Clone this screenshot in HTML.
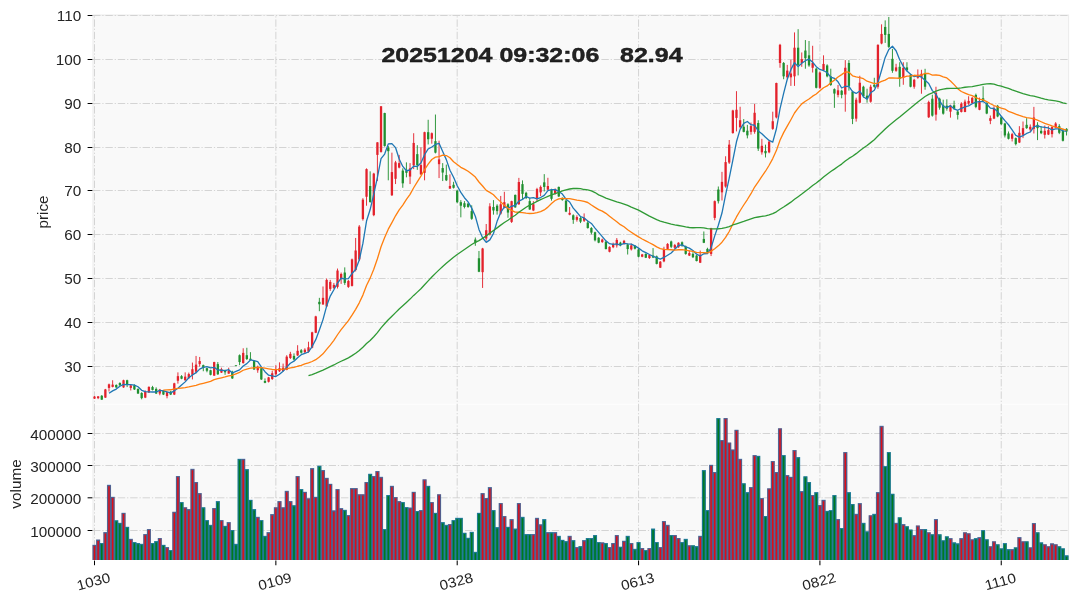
<!DOCTYPE html>
<html><head><meta charset="utf-8"><title>chart</title>
<style>html,body{margin:0;padding:0;background:#fff}svg{display:block}text{font-family:"Liberation Sans",sans-serif;fill:#222}</style></head><body>
<svg width="1077" height="602" viewBox="0 0 1077 602">
<rect width="1077" height="602" fill="#ffffff"/>
<rect x="93.0" y="15.0" width="975.6" height="545.0" fill="#f9f9f9"/>
<line x1="93.0" x2="1068.6" y1="404.4" y2="404.4" stroke="#fdfdfd" stroke-width="1.2"/>
<rect x="93.0" y="15.0" width="975.6" height="545.0" fill="none" stroke="#ececec" stroke-width="1"/>
<g stroke="#cdcdcd" stroke-width="0.85" stroke-dasharray="7.4 1.9 1.2 1.9" fill="none">
<line x1="93.0" x2="1068.6" y1="366.50" y2="366.50"/>
<line x1="93.0" x2="1068.6" y1="322.50" y2="322.50"/>
<line x1="93.0" x2="1068.6" y1="278.50" y2="278.50"/>
<line x1="93.0" x2="1068.6" y1="234.50" y2="234.50"/>
<line x1="93.0" x2="1068.6" y1="190.50" y2="190.50"/>
<line x1="93.0" x2="1068.6" y1="147.50" y2="147.50"/>
<line x1="93.0" x2="1068.6" y1="103.50" y2="103.50"/>
<line x1="93.0" x2="1068.6" y1="59.50" y2="59.50"/>
<line x1="93.0" x2="1068.6" y1="15.50" y2="15.50"/>
<line x1="93.0" x2="1068.6" y1="530.50" y2="530.50"/>
<line x1="93.0" x2="1068.6" y1="497.80" y2="497.80"/>
<line x1="93.0" x2="1068.6" y1="465.50" y2="465.50"/>
<line x1="93.0" x2="1068.6" y1="433.50" y2="433.50"/>
<line x1="94.50" x2="94.50" y1="560.0" y2="15.0"/>
<line x1="275.85" x2="275.85" y1="560.0" y2="15.0"/>
<line x1="457.20" x2="457.20" y1="560.0" y2="15.0"/>
<line x1="638.55" x2="638.55" y1="560.0" y2="15.0"/>
<line x1="819.90" x2="819.90" y1="560.0" y2="15.0"/>
<line x1="1001.25" x2="1001.25" y1="560.0" y2="15.0"/>
</g>
<filter id="vb" x="-1%" y="-5%" width="102%" height="110%"><feGaussianBlur stdDeviation="0.75 0.35"/></filter>
<g filter="url(#vb)">
<g>
<rect x="92.69" y="545.02" width="3.69" height="17.48" fill="#df0f18"/>
<rect x="96.31" y="539.81" width="3.69" height="22.69" fill="#df0f18"/>
<rect x="99.94" y="543.16" width="3.69" height="19.34" fill="#007a1e"/>
<rect x="103.57" y="532.37" width="3.69" height="30.13" fill="#df0f18"/>
<rect x="107.19" y="485.12" width="3.69" height="77.38" fill="#df0f18"/>
<rect x="110.82" y="497.02" width="3.69" height="65.48" fill="#df0f18"/>
<rect x="114.45" y="520.47" width="3.69" height="42.03" fill="#007a1e"/>
<rect x="118.08" y="523.07" width="3.69" height="39.43" fill="#007a1e"/>
<rect x="121.70" y="513.02" width="3.69" height="49.48" fill="#df0f18"/>
<rect x="125.33" y="526.98" width="3.69" height="35.52" fill="#007a1e"/>
<rect x="128.96" y="539.07" width="3.69" height="23.43" fill="#df0f18"/>
<rect x="132.58" y="542.23" width="3.69" height="20.27" fill="#007a1e"/>
<rect x="136.21" y="543.16" width="3.69" height="19.34" fill="#007a1e"/>
<rect x="139.84" y="544.09" width="3.69" height="18.41" fill="#007a1e"/>
<rect x="143.46" y="534.23" width="3.69" height="28.27" fill="#df0f18"/>
<rect x="147.09" y="529.21" width="3.69" height="33.29" fill="#df0f18"/>
<rect x="150.72" y="543.16" width="3.69" height="19.34" fill="#007a1e"/>
<rect x="154.35" y="541.30" width="3.69" height="21.20" fill="#007a1e"/>
<rect x="157.97" y="538.14" width="3.69" height="24.36" fill="#df0f18"/>
<rect x="161.60" y="545.02" width="3.69" height="17.48" fill="#007a1e"/>
<rect x="165.23" y="547.26" width="3.69" height="15.24" fill="#df0f18"/>
<rect x="168.85" y="550.23" width="3.69" height="12.27" fill="#007a1e"/>
<rect x="172.48" y="511.91" width="3.69" height="50.59" fill="#df0f18"/>
<rect x="176.11" y="476.19" width="3.69" height="86.31" fill="#df0f18"/>
<rect x="179.73" y="502.23" width="3.69" height="60.27" fill="#007a1e"/>
<rect x="183.36" y="507.44" width="3.69" height="55.06" fill="#df0f18"/>
<rect x="186.99" y="509.30" width="3.69" height="53.20" fill="#df0f18"/>
<rect x="190.62" y="469.12" width="3.69" height="93.38" fill="#df0f18"/>
<rect x="194.24" y="482.14" width="3.69" height="80.36" fill="#df0f18"/>
<rect x="197.87" y="493.30" width="3.69" height="69.20" fill="#df0f18"/>
<rect x="201.50" y="507.44" width="3.69" height="55.06" fill="#007a1e"/>
<rect x="205.12" y="520.28" width="3.69" height="42.22" fill="#007a1e"/>
<rect x="208.75" y="525.12" width="3.69" height="37.38" fill="#007a1e"/>
<rect x="212.38" y="508.19" width="3.69" height="54.31" fill="#df0f18"/>
<rect x="216.00" y="501.30" width="3.69" height="61.20" fill="#007a1e"/>
<rect x="219.63" y="520.28" width="3.69" height="42.22" fill="#df0f18"/>
<rect x="223.26" y="526.05" width="3.69" height="36.45" fill="#007a1e"/>
<rect x="226.89" y="522.33" width="3.69" height="40.17" fill="#df0f18"/>
<rect x="230.51" y="530.14" width="3.69" height="32.36" fill="#007a1e"/>
<rect x="234.14" y="544.09" width="3.69" height="18.41" fill="#007a1e"/>
<rect x="237.77" y="459.07" width="3.69" height="103.43" fill="#007a1e"/>
<rect x="241.39" y="459.07" width="3.69" height="103.43" fill="#df0f18"/>
<rect x="245.02" y="469.30" width="3.69" height="93.20" fill="#007a1e"/>
<rect x="248.65" y="500.00" width="3.69" height="62.50" fill="#007a1e"/>
<rect x="252.27" y="509.30" width="3.69" height="53.20" fill="#007a1e"/>
<rect x="255.90" y="517.12" width="3.69" height="45.38" fill="#df0f18"/>
<rect x="259.53" y="520.28" width="3.69" height="42.22" fill="#007a1e"/>
<rect x="263.16" y="536.09" width="3.69" height="26.41" fill="#007a1e"/>
<rect x="266.78" y="532.37" width="3.69" height="30.13" fill="#df0f18"/>
<rect x="270.41" y="514.33" width="3.69" height="48.17" fill="#df0f18"/>
<rect x="274.04" y="507.44" width="3.69" height="55.06" fill="#df0f18"/>
<rect x="277.66" y="501.30" width="3.69" height="61.20" fill="#df0f18"/>
<rect x="281.29" y="507.44" width="3.69" height="55.06" fill="#df0f18"/>
<rect x="284.92" y="491.07" width="3.69" height="71.43" fill="#df0f18"/>
<rect x="288.54" y="501.30" width="3.69" height="61.20" fill="#df0f18"/>
<rect x="292.17" y="505.40" width="3.69" height="57.10" fill="#007a1e"/>
<rect x="295.80" y="476.19" width="3.69" height="86.31" fill="#df0f18"/>
<rect x="299.43" y="489.21" width="3.69" height="73.29" fill="#007a1e"/>
<rect x="303.05" y="492.00" width="3.69" height="70.50" fill="#df0f18"/>
<rect x="306.68" y="498.51" width="3.69" height="63.99" fill="#df0f18"/>
<rect x="310.31" y="468.37" width="3.69" height="94.13" fill="#df0f18"/>
<rect x="313.93" y="497.02" width="3.69" height="65.48" fill="#df0f18"/>
<rect x="317.56" y="465.95" width="3.69" height="96.55" fill="#007a1e"/>
<rect x="321.19" y="470.23" width="3.69" height="92.27" fill="#df0f18"/>
<rect x="324.81" y="478.05" width="3.69" height="84.45" fill="#df0f18"/>
<rect x="328.44" y="484.00" width="3.69" height="78.50" fill="#df0f18"/>
<rect x="332.07" y="510.60" width="3.69" height="51.90" fill="#df0f18"/>
<rect x="335.70" y="489.21" width="3.69" height="73.29" fill="#df0f18"/>
<rect x="339.32" y="508.37" width="3.69" height="54.13" fill="#df0f18"/>
<rect x="342.95" y="510.05" width="3.69" height="52.45" fill="#007a1e"/>
<rect x="346.58" y="515.26" width="3.69" height="47.24" fill="#df0f18"/>
<rect x="350.20" y="488.28" width="3.69" height="74.22" fill="#df0f18"/>
<rect x="353.83" y="488.28" width="3.69" height="74.22" fill="#df0f18"/>
<rect x="357.46" y="494.42" width="3.69" height="68.08" fill="#df0f18"/>
<rect x="361.08" y="494.42" width="3.69" height="68.08" fill="#df0f18"/>
<rect x="364.71" y="482.14" width="3.69" height="80.36" fill="#df0f18"/>
<rect x="368.34" y="473.95" width="3.69" height="88.55" fill="#007a1e"/>
<rect x="371.97" y="476.19" width="3.69" height="86.31" fill="#df0f18"/>
<rect x="375.59" y="471.16" width="3.69" height="91.34" fill="#df0f18"/>
<rect x="379.22" y="477.12" width="3.69" height="85.38" fill="#df0f18"/>
<rect x="382.85" y="529.21" width="3.69" height="33.29" fill="#007a1e"/>
<rect x="386.47" y="495.16" width="3.69" height="67.34" fill="#007a1e"/>
<rect x="390.10" y="486.05" width="3.69" height="76.45" fill="#df0f18"/>
<rect x="393.73" y="497.21" width="3.69" height="65.29" fill="#df0f18"/>
<rect x="397.35" y="501.30" width="3.69" height="61.20" fill="#df0f18"/>
<rect x="400.98" y="502.23" width="3.69" height="60.27" fill="#007a1e"/>
<rect x="404.61" y="507.26" width="3.69" height="55.24" fill="#007a1e"/>
<rect x="408.24" y="507.81" width="3.69" height="54.69" fill="#df0f18"/>
<rect x="411.86" y="492.00" width="3.69" height="70.50" fill="#df0f18"/>
<rect x="415.49" y="511.16" width="3.69" height="51.34" fill="#007a1e"/>
<rect x="419.12" y="510.23" width="3.69" height="52.27" fill="#df0f18"/>
<rect x="422.74" y="479.53" width="3.69" height="82.97" fill="#df0f18"/>
<rect x="426.37" y="486.05" width="3.69" height="76.45" fill="#007a1e"/>
<rect x="430.00" y="502.23" width="3.69" height="60.27" fill="#df0f18"/>
<rect x="433.62" y="513.02" width="3.69" height="49.48" fill="#007a1e"/>
<rect x="437.25" y="494.42" width="3.69" height="68.08" fill="#df0f18"/>
<rect x="440.88" y="522.33" width="3.69" height="40.17" fill="#007a1e"/>
<rect x="444.51" y="525.12" width="3.69" height="37.38" fill="#007a1e"/>
<rect x="448.13" y="524.19" width="3.69" height="38.31" fill="#df0f18"/>
<rect x="451.76" y="520.28" width="3.69" height="42.22" fill="#007a1e"/>
<rect x="455.39" y="518.05" width="3.69" height="44.45" fill="#007a1e"/>
<rect x="459.01" y="518.05" width="3.69" height="44.45" fill="#007a1e"/>
<rect x="462.64" y="532.93" width="3.69" height="29.57" fill="#007a1e"/>
<rect x="466.27" y="537.95" width="3.69" height="24.55" fill="#007a1e"/>
<rect x="469.89" y="532.00" width="3.69" height="30.50" fill="#007a1e"/>
<rect x="473.52" y="552.09" width="3.69" height="10.41" fill="#007a1e"/>
<rect x="477.15" y="513.02" width="3.69" height="49.48" fill="#007a1e"/>
<rect x="480.78" y="493.30" width="3.69" height="69.20" fill="#df0f18"/>
<rect x="484.40" y="498.14" width="3.69" height="64.36" fill="#df0f18"/>
<rect x="488.03" y="487.35" width="3.69" height="75.15" fill="#df0f18"/>
<rect x="491.66" y="510.23" width="3.69" height="52.27" fill="#007a1e"/>
<rect x="495.28" y="527.35" width="3.69" height="35.15" fill="#007a1e"/>
<rect x="498.91" y="503.16" width="3.69" height="59.34" fill="#df0f18"/>
<rect x="502.54" y="516.19" width="3.69" height="46.31" fill="#df0f18"/>
<rect x="506.16" y="526.98" width="3.69" height="35.52" fill="#007a1e"/>
<rect x="509.79" y="519.35" width="3.69" height="43.15" fill="#df0f18"/>
<rect x="513.42" y="528.84" width="3.69" height="33.66" fill="#007a1e"/>
<rect x="517.05" y="503.16" width="3.69" height="59.34" fill="#df0f18"/>
<rect x="520.67" y="517.12" width="3.69" height="45.38" fill="#007a1e"/>
<rect x="524.30" y="534.23" width="3.69" height="28.27" fill="#007a1e"/>
<rect x="527.93" y="534.23" width="3.69" height="28.27" fill="#007a1e"/>
<rect x="531.55" y="534.23" width="3.69" height="28.27" fill="#df0f18"/>
<rect x="535.18" y="518.05" width="3.69" height="44.45" fill="#df0f18"/>
<rect x="538.81" y="524.56" width="3.69" height="37.94" fill="#df0f18"/>
<rect x="542.43" y="519.35" width="3.69" height="43.15" fill="#007a1e"/>
<rect x="546.06" y="532.37" width="3.69" height="30.13" fill="#df0f18"/>
<rect x="549.69" y="532.37" width="3.69" height="30.13" fill="#007a1e"/>
<rect x="553.32" y="532.37" width="3.69" height="30.13" fill="#df0f18"/>
<rect x="556.94" y="536.09" width="3.69" height="26.41" fill="#007a1e"/>
<rect x="560.57" y="540.00" width="3.69" height="22.50" fill="#007a1e"/>
<rect x="564.20" y="541.30" width="3.69" height="21.20" fill="#007a1e"/>
<rect x="567.82" y="536.09" width="3.69" height="26.41" fill="#df0f18"/>
<rect x="571.45" y="540.37" width="3.69" height="22.13" fill="#007a1e"/>
<rect x="575.08" y="547.26" width="3.69" height="15.24" fill="#df0f18"/>
<rect x="578.70" y="546.33" width="3.69" height="16.17" fill="#007a1e"/>
<rect x="582.33" y="540.37" width="3.69" height="22.13" fill="#df0f18"/>
<rect x="585.96" y="538.14" width="3.69" height="24.36" fill="#007a1e"/>
<rect x="589.59" y="538.14" width="3.69" height="24.36" fill="#007a1e"/>
<rect x="593.21" y="535.16" width="3.69" height="27.34" fill="#007a1e"/>
<rect x="596.84" y="542.23" width="3.69" height="20.27" fill="#007a1e"/>
<rect x="600.47" y="542.60" width="3.69" height="19.90" fill="#df0f18"/>
<rect x="604.09" y="543.16" width="3.69" height="19.34" fill="#007a1e"/>
<rect x="607.72" y="547.26" width="3.69" height="15.24" fill="#df0f18"/>
<rect x="611.35" y="543.16" width="3.69" height="19.34" fill="#df0f18"/>
<rect x="614.97" y="535.16" width="3.69" height="27.34" fill="#df0f18"/>
<rect x="618.60" y="546.88" width="3.69" height="15.62" fill="#007a1e"/>
<rect x="622.23" y="540.93" width="3.69" height="21.57" fill="#df0f18"/>
<rect x="625.86" y="536.09" width="3.69" height="26.41" fill="#007a1e"/>
<rect x="629.48" y="543.16" width="3.69" height="19.34" fill="#df0f18"/>
<rect x="633.11" y="549.12" width="3.69" height="13.38" fill="#007a1e"/>
<rect x="636.74" y="542.23" width="3.69" height="20.27" fill="#007a1e"/>
<rect x="640.36" y="548.19" width="3.69" height="14.31" fill="#df0f18"/>
<rect x="643.99" y="550.23" width="3.69" height="12.27" fill="#007a1e"/>
<rect x="647.62" y="548.19" width="3.69" height="14.31" fill="#df0f18"/>
<rect x="651.24" y="528.84" width="3.69" height="33.66" fill="#007a1e"/>
<rect x="654.87" y="542.23" width="3.69" height="20.27" fill="#007a1e"/>
<rect x="658.50" y="547.26" width="3.69" height="15.24" fill="#df0f18"/>
<rect x="662.13" y="521.21" width="3.69" height="41.29" fill="#df0f18"/>
<rect x="665.75" y="525.12" width="3.69" height="37.38" fill="#df0f18"/>
<rect x="669.38" y="535.16" width="3.69" height="27.34" fill="#007a1e"/>
<rect x="673.01" y="535.16" width="3.69" height="27.34" fill="#df0f18"/>
<rect x="676.63" y="538.14" width="3.69" height="24.36" fill="#df0f18"/>
<rect x="680.26" y="542.23" width="3.69" height="20.27" fill="#007a1e"/>
<rect x="683.89" y="539.07" width="3.69" height="23.43" fill="#007a1e"/>
<rect x="687.51" y="545.40" width="3.69" height="17.10" fill="#df0f18"/>
<rect x="691.14" y="545.40" width="3.69" height="17.10" fill="#007a1e"/>
<rect x="694.77" y="546.33" width="3.69" height="16.17" fill="#007a1e"/>
<rect x="698.40" y="536.09" width="3.69" height="26.41" fill="#df0f18"/>
<rect x="702.02" y="470.23" width="3.69" height="92.27" fill="#007a1e"/>
<rect x="705.65" y="510.23" width="3.69" height="52.27" fill="#007a1e"/>
<rect x="709.28" y="465.00" width="3.69" height="97.50" fill="#df0f18"/>
<rect x="712.90" y="472.16" width="3.69" height="90.34" fill="#df0f18"/>
<rect x="716.53" y="418.19" width="3.69" height="144.31" fill="#007a1e"/>
<rect x="720.16" y="440.19" width="3.69" height="122.31" fill="#df0f18"/>
<rect x="723.78" y="418.19" width="3.69" height="144.31" fill="#df0f18"/>
<rect x="727.41" y="442.74" width="3.69" height="119.76" fill="#df0f18"/>
<rect x="731.04" y="449.65" width="3.69" height="112.85" fill="#df0f18"/>
<rect x="734.67" y="429.95" width="3.69" height="132.55" fill="#df0f18"/>
<rect x="738.29" y="459.12" width="3.69" height="103.38" fill="#df0f18"/>
<rect x="741.92" y="483.42" width="3.69" height="79.08" fill="#007a1e"/>
<rect x="745.55" y="492.37" width="3.69" height="70.13" fill="#007a1e"/>
<rect x="749.17" y="487.26" width="3.69" height="75.24" fill="#df0f18"/>
<rect x="752.80" y="455.28" width="3.69" height="107.22" fill="#df0f18"/>
<rect x="756.43" y="456.05" width="3.69" height="106.45" fill="#007a1e"/>
<rect x="760.05" y="498.26" width="3.69" height="64.24" fill="#df0f18"/>
<rect x="763.68" y="516.17" width="3.69" height="46.33" fill="#007a1e"/>
<rect x="767.31" y="488.54" width="3.69" height="73.96" fill="#df0f18"/>
<rect x="770.94" y="461.16" width="3.69" height="101.34" fill="#df0f18"/>
<rect x="774.56" y="472.16" width="3.69" height="90.34" fill="#df0f18"/>
<rect x="778.19" y="428.42" width="3.69" height="134.08" fill="#df0f18"/>
<rect x="781.82" y="455.28" width="3.69" height="107.22" fill="#007a1e"/>
<rect x="785.44" y="475.23" width="3.69" height="87.27" fill="#df0f18"/>
<rect x="789.07" y="477.02" width="3.69" height="85.48" fill="#df0f18"/>
<rect x="792.70" y="450.16" width="3.69" height="112.34" fill="#df0f18"/>
<rect x="796.32" y="457.33" width="3.69" height="105.17" fill="#007a1e"/>
<rect x="799.95" y="491.35" width="3.69" height="71.15" fill="#df0f18"/>
<rect x="803.58" y="476.51" width="3.69" height="85.99" fill="#007a1e"/>
<rect x="807.21" y="482.14" width="3.69" height="80.36" fill="#007a1e"/>
<rect x="810.83" y="495.19" width="3.69" height="67.31" fill="#df0f18"/>
<rect x="814.46" y="492.37" width="3.69" height="70.13" fill="#007a1e"/>
<rect x="818.09" y="505.17" width="3.69" height="57.33" fill="#df0f18"/>
<rect x="821.71" y="500.05" width="3.69" height="62.45" fill="#df0f18"/>
<rect x="825.34" y="511.05" width="3.69" height="51.45" fill="#007a1e"/>
<rect x="828.97" y="510.28" width="3.69" height="52.22" fill="#007a1e"/>
<rect x="832.59" y="495.19" width="3.69" height="67.31" fill="#007a1e"/>
<rect x="836.22" y="519.24" width="3.69" height="43.26" fill="#df0f18"/>
<rect x="839.85" y="528.19" width="3.69" height="34.31" fill="#007a1e"/>
<rect x="843.48" y="452.21" width="3.69" height="110.29" fill="#df0f18"/>
<rect x="847.10" y="492.37" width="3.69" height="70.13" fill="#007a1e"/>
<rect x="850.73" y="504.14" width="3.69" height="58.36" fill="#007a1e"/>
<rect x="854.36" y="514.12" width="3.69" height="48.38" fill="#df0f18"/>
<rect x="857.98" y="503.37" width="3.69" height="59.13" fill="#df0f18"/>
<rect x="861.61" y="523.07" width="3.69" height="39.43" fill="#007a1e"/>
<rect x="865.24" y="531.51" width="3.69" height="30.99" fill="#007a1e"/>
<rect x="868.86" y="515.40" width="3.69" height="47.10" fill="#df0f18"/>
<rect x="872.49" y="514.12" width="3.69" height="48.38" fill="#007a1e"/>
<rect x="876.12" y="492.37" width="3.69" height="70.13" fill="#df0f18"/>
<rect x="879.75" y="426.12" width="3.69" height="136.38" fill="#df0f18"/>
<rect x="883.37" y="466.28" width="3.69" height="96.22" fill="#007a1e"/>
<rect x="887.00" y="452.21" width="3.69" height="110.29" fill="#007a1e"/>
<rect x="890.63" y="493.91" width="3.69" height="68.59" fill="#007a1e"/>
<rect x="894.25" y="523.07" width="3.69" height="39.43" fill="#df0f18"/>
<rect x="897.88" y="517.44" width="3.69" height="45.06" fill="#007a1e"/>
<rect x="901.51" y="524.35" width="3.69" height="38.15" fill="#df0f18"/>
<rect x="905.13" y="526.40" width="3.69" height="36.10" fill="#007a1e"/>
<rect x="908.76" y="529.72" width="3.69" height="32.78" fill="#007a1e"/>
<rect x="912.39" y="535.35" width="3.69" height="27.15" fill="#df0f18"/>
<rect x="916.02" y="525.63" width="3.69" height="36.87" fill="#df0f18"/>
<rect x="919.64" y="529.16" width="3.69" height="33.34" fill="#df0f18"/>
<rect x="923.27" y="529.16" width="3.69" height="33.34" fill="#007a1e"/>
<rect x="926.90" y="532.41" width="3.69" height="30.09" fill="#df0f18"/>
<rect x="930.52" y="534.39" width="3.69" height="28.11" fill="#007a1e"/>
<rect x="934.15" y="519.29" width="3.69" height="43.21" fill="#df0f18"/>
<rect x="937.78" y="534.39" width="3.69" height="28.11" fill="#007a1e"/>
<rect x="941.40" y="540.45" width="3.69" height="22.05" fill="#007a1e"/>
<rect x="945.03" y="536.50" width="3.69" height="26.00" fill="#007a1e"/>
<rect x="948.66" y="538.34" width="3.69" height="24.16" fill="#df0f18"/>
<rect x="952.29" y="542.57" width="3.69" height="19.93" fill="#007a1e"/>
<rect x="955.91" y="543.56" width="3.69" height="18.94" fill="#007a1e"/>
<rect x="959.54" y="538.34" width="3.69" height="24.16" fill="#df0f18"/>
<rect x="963.17" y="532.41" width="3.69" height="30.09" fill="#df0f18"/>
<rect x="966.79" y="533.40" width="3.69" height="29.10" fill="#df0f18"/>
<rect x="970.42" y="539.47" width="3.69" height="23.03" fill="#df0f18"/>
<rect x="974.05" y="538.34" width="3.69" height="24.16" fill="#007a1e"/>
<rect x="977.67" y="537.35" width="3.69" height="25.15" fill="#df0f18"/>
<rect x="981.30" y="530.29" width="3.69" height="32.21" fill="#007a1e"/>
<rect x="984.93" y="539.47" width="3.69" height="23.03" fill="#007a1e"/>
<rect x="988.56" y="546.38" width="3.69" height="16.12" fill="#df0f18"/>
<rect x="992.18" y="541.44" width="3.69" height="21.06" fill="#df0f18"/>
<rect x="995.81" y="544.41" width="3.69" height="18.09" fill="#007a1e"/>
<rect x="999.44" y="548.50" width="3.69" height="14.00" fill="#007a1e"/>
<rect x="1003.06" y="543.28" width="3.69" height="19.22" fill="#007a1e"/>
<rect x="1006.69" y="549.34" width="3.69" height="13.16" fill="#007a1e"/>
<rect x="1010.32" y="549.34" width="3.69" height="13.16" fill="#df0f18"/>
<rect x="1013.94" y="547.51" width="3.69" height="14.99" fill="#007a1e"/>
<rect x="1017.57" y="537.35" width="3.69" height="25.15" fill="#df0f18"/>
<rect x="1021.20" y="541.44" width="3.69" height="21.06" fill="#df0f18"/>
<rect x="1024.83" y="541.44" width="3.69" height="21.06" fill="#007a1e"/>
<rect x="1028.45" y="547.51" width="3.69" height="14.99" fill="#df0f18"/>
<rect x="1032.08" y="523.24" width="3.69" height="39.26" fill="#df0f18"/>
<rect x="1035.71" y="532.41" width="3.69" height="30.09" fill="#007a1e"/>
<rect x="1039.33" y="542.57" width="3.69" height="19.93" fill="#007a1e"/>
<rect x="1042.96" y="544.41" width="3.69" height="18.09" fill="#df0f18"/>
<rect x="1046.59" y="546.38" width="3.69" height="16.12" fill="#df0f18"/>
<rect x="1050.21" y="543.56" width="3.69" height="18.94" fill="#df0f18"/>
<rect x="1053.84" y="544.41" width="3.69" height="18.09" fill="#df0f18"/>
<rect x="1057.47" y="546.38" width="3.69" height="16.12" fill="#007a1e"/>
<rect x="1061.10" y="548.50" width="3.69" height="14.00" fill="#007a1e"/>
<rect x="1064.72" y="555.55" width="3.69" height="6.95" fill="#007a1e"/>
</g>
<clipPath id="vc"><path d="M92.44,544.77H96.56V562.5H92.44ZM96.06,539.56H100.19V562.5H96.06ZM99.69,542.91H103.82V562.5H99.69ZM103.32,532.12H107.44V562.5H103.32ZM106.94,484.87H111.07V562.5H106.94ZM110.57,496.77H114.70V562.5H110.57ZM114.20,520.22H118.33V562.5H114.20ZM117.83,522.82H121.95V562.5H117.83ZM121.45,512.77H125.58V562.5H121.45ZM125.08,526.73H129.21V562.5H125.08ZM128.71,538.82H132.83V562.5H128.71ZM132.33,541.98H136.46V562.5H132.33ZM135.96,542.91H140.09V562.5H135.96ZM139.59,543.84H143.71V562.5H139.59ZM143.21,533.98H147.34V562.5H143.21ZM146.84,528.96H150.97V562.5H146.84ZM150.47,542.91H154.60V562.5H150.47ZM154.10,541.05H158.22V562.5H154.10ZM157.72,537.89H161.85V562.5H157.72ZM161.35,544.77H165.48V562.5H161.35ZM164.98,547.01H169.10V562.5H164.98ZM168.60,549.98H172.73V562.5H168.60ZM172.23,511.66H176.36V562.5H172.23ZM175.86,475.94H179.98V562.5H175.86ZM179.48,501.98H183.61V562.5H179.48ZM183.11,507.19H187.24V562.5H183.11ZM186.74,509.05H190.87V562.5H186.74ZM190.37,468.87H194.49V562.5H190.37ZM193.99,481.89H198.12V562.5H193.99ZM197.62,493.05H201.75V562.5H197.62ZM201.25,507.19H205.37V562.5H201.25ZM204.87,520.03H209.00V562.5H204.87ZM208.50,524.87H212.63V562.5H208.50ZM212.13,507.94H216.25V562.5H212.13ZM215.75,501.05H219.88V562.5H215.75ZM219.38,520.03H223.51V562.5H219.38ZM223.01,525.80H227.14V562.5H223.01ZM226.64,522.08H230.76V562.5H226.64ZM230.26,529.89H234.39V562.5H230.26ZM233.89,543.84H238.02V562.5H233.89ZM237.52,458.82H241.64V562.5H237.52ZM241.14,458.82H245.27V562.5H241.14ZM244.77,469.05H248.90V562.5H244.77ZM248.40,499.75H252.52V562.5H248.40ZM252.02,509.05H256.15V562.5H252.02ZM255.65,516.87H259.78V562.5H255.65ZM259.28,520.03H263.41V562.5H259.28ZM262.91,535.84H267.03V562.5H262.91ZM266.53,532.12H270.66V562.5H266.53ZM270.16,514.08H274.29V562.5H270.16ZM273.79,507.19H277.91V562.5H273.79ZM277.41,501.05H281.54V562.5H277.41ZM281.04,507.19H285.17V562.5H281.04ZM284.67,490.82H288.79V562.5H284.67ZM288.29,501.05H292.42V562.5H288.29ZM291.92,505.15H296.05V562.5H291.92ZM295.55,475.94H299.68V562.5H295.55ZM299.18,488.96H303.30V562.5H299.18ZM302.80,491.75H306.93V562.5H302.80ZM306.43,498.26H310.56V562.5H306.43ZM310.06,468.12H314.18V562.5H310.06ZM313.68,496.77H317.81V562.5H313.68ZM317.31,465.70H321.44V562.5H317.31ZM320.94,469.98H325.06V562.5H320.94ZM324.56,477.80H328.69V562.5H324.56ZM328.19,483.75H332.32V562.5H328.19ZM331.82,510.35H335.95V562.5H331.82ZM335.45,488.96H339.57V562.5H335.45ZM339.07,508.12H343.20V562.5H339.07ZM342.70,509.80H346.83V562.5H342.70ZM346.33,515.01H350.45V562.5H346.33ZM349.95,488.03H354.08V562.5H349.95ZM353.58,488.03H357.71V562.5H353.58ZM357.21,494.17H361.33V562.5H357.21ZM360.83,494.17H364.96V562.5H360.83ZM364.46,481.89H368.59V562.5H364.46ZM368.09,473.70H372.22V562.5H368.09ZM371.72,475.94H375.84V562.5H371.72ZM375.34,470.91H379.47V562.5H375.34ZM378.97,476.87H383.10V562.5H378.97ZM382.60,528.96H386.72V562.5H382.60ZM386.22,494.91H390.35V562.5H386.22ZM389.85,485.80H393.98V562.5H389.85ZM393.48,496.96H397.60V562.5H393.48ZM397.10,501.05H401.23V562.5H397.10ZM400.73,501.98H404.86V562.5H400.73ZM404.36,507.01H408.49V562.5H404.36ZM407.99,507.56H412.11V562.5H407.99ZM411.61,491.75H415.74V562.5H411.61ZM415.24,510.91H419.37V562.5H415.24ZM418.87,509.98H422.99V562.5H418.87ZM422.49,479.28H426.62V562.5H422.49ZM426.12,485.80H430.25V562.5H426.12ZM429.75,501.98H433.87V562.5H429.75ZM433.37,512.77H437.50V562.5H433.37ZM437.00,494.17H441.13V562.5H437.00ZM440.63,522.08H444.76V562.5H440.63ZM444.26,524.87H448.38V562.5H444.26ZM447.88,523.94H452.01V562.5H447.88ZM451.51,520.03H455.64V562.5H451.51ZM455.14,517.80H459.26V562.5H455.14ZM458.76,517.80H462.89V562.5H458.76ZM462.39,532.68H466.52V562.5H462.39ZM466.02,537.70H470.14V562.5H466.02ZM469.64,531.75H473.77V562.5H469.64ZM473.27,551.84H477.40V562.5H473.27ZM476.90,512.77H481.03V562.5H476.90ZM480.53,493.05H484.65V562.5H480.53ZM484.15,497.89H488.28V562.5H484.15ZM487.78,487.10H491.91V562.5H487.78ZM491.41,509.98H495.53V562.5H491.41ZM495.03,527.10H499.16V562.5H495.03ZM498.66,502.91H502.79V562.5H498.66ZM502.29,515.94H506.41V562.5H502.29ZM505.91,526.73H510.04V562.5H505.91ZM509.54,519.10H513.67V562.5H509.54ZM513.17,528.59H517.30V562.5H513.17ZM516.80,502.91H520.92V562.5H516.80ZM520.42,516.87H524.55V562.5H520.42ZM524.05,533.98H528.18V562.5H524.05ZM527.68,533.98H531.80V562.5H527.68ZM531.30,533.98H535.43V562.5H531.30ZM534.93,517.80H539.06V562.5H534.93ZM538.56,524.31H542.68V562.5H538.56ZM542.18,519.10H546.31V562.5H542.18ZM545.81,532.12H549.94V562.5H545.81ZM549.44,532.12H553.57V562.5H549.44ZM553.07,532.12H557.19V562.5H553.07ZM556.69,535.84H560.82V562.5H556.69ZM560.32,539.75H564.45V562.5H560.32ZM563.95,541.05H568.07V562.5H563.95ZM567.57,535.84H571.70V562.5H567.57ZM571.20,540.12H575.33V562.5H571.20ZM574.83,547.01H578.95V562.5H574.83ZM578.45,546.08H582.58V562.5H578.45ZM582.08,540.12H586.21V562.5H582.08ZM585.71,537.89H589.84V562.5H585.71ZM589.34,537.89H593.46V562.5H589.34ZM592.96,534.91H597.09V562.5H592.96ZM596.59,541.98H600.72V562.5H596.59ZM600.22,542.35H604.34V562.5H600.22ZM603.84,542.91H607.97V562.5H603.84ZM607.47,547.01H611.60V562.5H607.47ZM611.10,542.91H615.22V562.5H611.10ZM614.72,534.91H618.85V562.5H614.72ZM618.35,546.63H622.48V562.5H618.35ZM621.98,540.68H626.11V562.5H621.98ZM625.61,535.84H629.73V562.5H625.61ZM629.23,542.91H633.36V562.5H629.23ZM632.86,548.87H636.99V562.5H632.86ZM636.49,541.98H640.61V562.5H636.49ZM640.11,547.94H644.24V562.5H640.11ZM643.74,549.98H647.87V562.5H643.74ZM647.37,547.94H651.49V562.5H647.37ZM650.99,528.59H655.12V562.5H650.99ZM654.62,541.98H658.75V562.5H654.62ZM658.25,547.01H662.38V562.5H658.25ZM661.88,520.96H666.00V562.5H661.88ZM665.50,524.87H669.63V562.5H665.50ZM669.13,534.91H673.26V562.5H669.13ZM672.76,534.91H676.88V562.5H672.76ZM676.38,537.89H680.51V562.5H676.38ZM680.01,541.98H684.14V562.5H680.01ZM683.64,538.82H687.76V562.5H683.64ZM687.26,545.15H691.39V562.5H687.26ZM690.89,545.15H695.02V562.5H690.89ZM694.52,546.08H698.65V562.5H694.52ZM698.15,535.84H702.27V562.5H698.15ZM701.77,469.98H705.90V562.5H701.77ZM705.40,509.98H709.53V562.5H705.40ZM709.03,464.75H713.15V562.5H709.03ZM712.65,471.91H716.78V562.5H712.65ZM716.28,417.94H720.41V562.5H716.28ZM719.91,439.94H724.03V562.5H719.91ZM723.53,417.94H727.66V562.5H723.53ZM727.16,442.49H731.29V562.5H727.16ZM730.79,449.40H734.92V562.5H730.79ZM734.42,429.70H738.54V562.5H734.42ZM738.04,458.87H742.17V562.5H738.04ZM741.67,483.17H745.80V562.5H741.67ZM745.30,492.12H749.42V562.5H745.30ZM748.92,487.01H753.05V562.5H748.92ZM752.55,455.03H756.68V562.5H752.55ZM756.18,455.80H760.30V562.5H756.18ZM759.80,498.01H763.93V562.5H759.80ZM763.43,515.92H767.56V562.5H763.43ZM767.06,488.29H771.19V562.5H767.06ZM770.69,460.91H774.81V562.5H770.69ZM774.31,471.91H778.44V562.5H774.31ZM777.94,428.17H782.07V562.5H777.94ZM781.57,455.03H785.69V562.5H781.57ZM785.19,474.98H789.32V562.5H785.19ZM788.82,476.77H792.95V562.5H788.82ZM792.45,449.91H796.57V562.5H792.45ZM796.07,457.08H800.20V562.5H796.07ZM799.70,491.10H803.83V562.5H799.70ZM803.33,476.26H807.46V562.5H803.33ZM806.96,481.89H811.08V562.5H806.96ZM810.58,494.94H814.71V562.5H810.58ZM814.21,492.12H818.34V562.5H814.21ZM817.84,504.92H821.96V562.5H817.84ZM821.46,499.80H825.59V562.5H821.46ZM825.09,510.80H829.22V562.5H825.09ZM828.72,510.03H832.84V562.5H828.72ZM832.34,494.94H836.47V562.5H832.34ZM835.97,518.99H840.10V562.5H835.97ZM839.60,527.94H843.73V562.5H839.60ZM843.23,451.96H847.35V562.5H843.23ZM846.85,492.12H850.98V562.5H846.85ZM850.48,503.89H854.61V562.5H850.48ZM854.11,513.87H858.23V562.5H854.11ZM857.73,503.12H861.86V562.5H857.73ZM861.36,522.82H865.49V562.5H861.36ZM864.99,531.26H869.11V562.5H864.99ZM868.61,515.15H872.74V562.5H868.61ZM872.24,513.87H876.37V562.5H872.24ZM875.87,492.12H880.00V562.5H875.87ZM879.50,425.87H883.62V562.5H879.50ZM883.12,466.03H887.25V562.5H883.12ZM886.75,451.96H890.88V562.5H886.75ZM890.38,493.66H894.50V562.5H890.38ZM894.00,522.82H898.13V562.5H894.00ZM897.63,517.19H901.76V562.5H897.63ZM901.26,524.10H905.38V562.5H901.26ZM904.88,526.15H909.01V562.5H904.88ZM908.51,529.47H912.64V562.5H908.51ZM912.14,535.10H916.27V562.5H912.14ZM915.77,525.38H919.89V562.5H915.77ZM919.39,528.91H923.52V562.5H919.39ZM923.02,528.91H927.15V562.5H923.02ZM926.65,532.16H930.77V562.5H926.65ZM930.27,534.14H934.40V562.5H930.27ZM933.90,519.04H938.03V562.5H933.90ZM937.53,534.14H941.65V562.5H937.53ZM941.15,540.20H945.28V562.5H941.15ZM944.78,536.25H948.91V562.5H944.78ZM948.41,538.09H952.54V562.5H948.41ZM952.04,542.32H956.16V562.5H952.04ZM955.66,543.31H959.79V562.5H955.66ZM959.29,538.09H963.42V562.5H959.29ZM962.92,532.16H967.04V562.5H962.92ZM966.54,533.15H970.67V562.5H966.54ZM970.17,539.22H974.30V562.5H970.17ZM973.80,538.09H977.92V562.5H973.80ZM977.42,537.10H981.55V562.5H977.42ZM981.05,530.04H985.18V562.5H981.05ZM984.68,539.22H988.81V562.5H984.68ZM988.31,546.13H992.43V562.5H988.31ZM991.93,541.19H996.06V562.5H991.93ZM995.56,544.16H999.69V562.5H995.56ZM999.19,548.25H1003.31V562.5H999.19ZM1002.81,543.03H1006.94V562.5H1002.81ZM1006.44,549.09H1010.57V562.5H1006.44ZM1010.07,549.09H1014.19V562.5H1010.07ZM1013.69,547.26H1017.82V562.5H1013.69ZM1017.32,537.10H1021.45V562.5H1017.32ZM1020.95,541.19H1025.08V562.5H1020.95ZM1024.58,541.19H1028.70V562.5H1024.58ZM1028.20,547.26H1032.33V562.5H1028.20ZM1031.83,522.99H1035.96V562.5H1031.83ZM1035.46,532.16H1039.58V562.5H1035.46ZM1039.08,542.32H1043.21V562.5H1039.08ZM1042.71,544.16H1046.84V562.5H1042.71ZM1046.34,546.13H1050.46V562.5H1046.34ZM1049.96,543.31H1054.09V562.5H1049.96ZM1053.59,544.16H1057.72V562.5H1053.59ZM1057.22,546.13H1061.35V562.5H1057.22ZM1060.85,548.25H1064.97V562.5H1060.85ZM1064.47,555.30H1068.60V562.5H1064.47Z"/></clipPath>
<path d="M92.69,562.5V545.02H96.31V562.5M96.31,562.5V539.81H99.94V562.5M99.94,562.5V543.16H103.57V562.5M103.57,562.5V532.37H107.19V562.5M107.19,562.5V485.12H110.82V562.5M110.82,562.5V497.02H114.45V562.5M114.45,562.5V520.47H118.08V562.5M118.08,562.5V523.07H121.70V562.5M121.70,562.5V513.02H125.33V562.5M125.33,562.5V526.98H128.96V562.5M128.96,562.5V539.07H132.58V562.5M132.58,562.5V542.23H136.21V562.5M136.21,562.5V543.16H139.84V562.5M139.84,562.5V544.09H143.46V562.5M143.46,562.5V534.23H147.09V562.5M147.09,562.5V529.21H150.72V562.5M150.72,562.5V543.16H154.35V562.5M154.35,562.5V541.30H157.97V562.5M157.97,562.5V538.14H161.60V562.5M161.60,562.5V545.02H165.23V562.5M165.23,562.5V547.26H168.85V562.5M168.85,562.5V550.23H172.48V562.5M172.48,562.5V511.91H176.11V562.5M176.11,562.5V476.19H179.73V562.5M179.73,562.5V502.23H183.36V562.5M183.36,562.5V507.44H186.99V562.5M186.99,562.5V509.30H190.62V562.5M190.62,562.5V469.12H194.24V562.5M194.24,562.5V482.14H197.87V562.5M197.87,562.5V493.30H201.50V562.5M201.50,562.5V507.44H205.12V562.5M205.12,562.5V520.28H208.75V562.5M208.75,562.5V525.12H212.38V562.5M212.38,562.5V508.19H216.00V562.5M216.00,562.5V501.30H219.63V562.5M219.63,562.5V520.28H223.26V562.5M223.26,562.5V526.05H226.89V562.5M226.89,562.5V522.33H230.51V562.5M230.51,562.5V530.14H234.14V562.5M234.14,562.5V544.09H237.77V562.5M237.77,562.5V459.07H241.39V562.5M241.39,562.5V459.07H245.02V562.5M245.02,562.5V469.30H248.65V562.5M248.65,562.5V500.00H252.27V562.5M252.27,562.5V509.30H255.90V562.5M255.90,562.5V517.12H259.53V562.5M259.53,562.5V520.28H263.16V562.5M263.16,562.5V536.09H266.78V562.5M266.78,562.5V532.37H270.41V562.5M270.41,562.5V514.33H274.04V562.5M274.04,562.5V507.44H277.66V562.5M277.66,562.5V501.30H281.29V562.5M281.29,562.5V507.44H284.92V562.5M284.92,562.5V491.07H288.54V562.5M288.54,562.5V501.30H292.17V562.5M292.17,562.5V505.40H295.80V562.5M295.80,562.5V476.19H299.43V562.5M299.43,562.5V489.21H303.05V562.5M303.05,562.5V492.00H306.68V562.5M306.68,562.5V498.51H310.31V562.5M310.31,562.5V468.37H313.93V562.5M313.93,562.5V497.02H317.56V562.5M317.56,562.5V465.95H321.19V562.5M321.19,562.5V470.23H324.81V562.5M324.81,562.5V478.05H328.44V562.5M328.44,562.5V484.00H332.07V562.5M332.07,562.5V510.60H335.70V562.5M335.70,562.5V489.21H339.32V562.5M339.32,562.5V508.37H342.95V562.5M342.95,562.5V510.05H346.58V562.5M346.58,562.5V515.26H350.20V562.5M350.20,562.5V488.28H353.83V562.5M353.83,562.5V488.28H357.46V562.5M357.46,562.5V494.42H361.08V562.5M361.08,562.5V494.42H364.71V562.5M364.71,562.5V482.14H368.34V562.5M368.34,562.5V473.95H371.97V562.5M371.97,562.5V476.19H375.59V562.5M375.59,562.5V471.16H379.22V562.5M379.22,562.5V477.12H382.85V562.5M382.85,562.5V529.21H386.47V562.5M386.47,562.5V495.16H390.10V562.5M390.10,562.5V486.05H393.73V562.5M393.73,562.5V497.21H397.35V562.5M397.35,562.5V501.30H400.98V562.5M400.98,562.5V502.23H404.61V562.5M404.61,562.5V507.26H408.24V562.5M408.24,562.5V507.81H411.86V562.5M411.86,562.5V492.00H415.49V562.5M415.49,562.5V511.16H419.12V562.5M419.12,562.5V510.23H422.74V562.5M422.74,562.5V479.53H426.37V562.5M426.37,562.5V486.05H430.00V562.5M430.00,562.5V502.23H433.62V562.5M433.62,562.5V513.02H437.25V562.5M437.25,562.5V494.42H440.88V562.5M440.88,562.5V522.33H444.51V562.5M444.51,562.5V525.12H448.13V562.5M448.13,562.5V524.19H451.76V562.5M451.76,562.5V520.28H455.39V562.5M455.39,562.5V518.05H459.01V562.5M459.01,562.5V518.05H462.64V562.5M462.64,562.5V532.93H466.27V562.5M466.27,562.5V537.95H469.89V562.5M469.89,562.5V532.00H473.52V562.5M473.52,562.5V552.09H477.15V562.5M477.15,562.5V513.02H480.78V562.5M480.78,562.5V493.30H484.40V562.5M484.40,562.5V498.14H488.03V562.5M488.03,562.5V487.35H491.66V562.5M491.66,562.5V510.23H495.28V562.5M495.28,562.5V527.35H498.91V562.5M498.91,562.5V503.16H502.54V562.5M502.54,562.5V516.19H506.16V562.5M506.16,562.5V526.98H509.79V562.5M509.79,562.5V519.35H513.42V562.5M513.42,562.5V528.84H517.05V562.5M517.05,562.5V503.16H520.67V562.5M520.67,562.5V517.12H524.30V562.5M524.30,562.5V534.23H527.93V562.5M527.93,562.5V534.23H531.55V562.5M531.55,562.5V534.23H535.18V562.5M535.18,562.5V518.05H538.81V562.5M538.81,562.5V524.56H542.43V562.5M542.43,562.5V519.35H546.06V562.5M546.06,562.5V532.37H549.69V562.5M549.69,562.5V532.37H553.32V562.5M553.32,562.5V532.37H556.94V562.5M556.94,562.5V536.09H560.57V562.5M560.57,562.5V540.00H564.20V562.5M564.20,562.5V541.30H567.82V562.5M567.82,562.5V536.09H571.45V562.5M571.45,562.5V540.37H575.08V562.5M575.08,562.5V547.26H578.70V562.5M578.70,562.5V546.33H582.33V562.5M582.33,562.5V540.37H585.96V562.5M585.96,562.5V538.14H589.59V562.5M589.59,562.5V538.14H593.21V562.5M593.21,562.5V535.16H596.84V562.5M596.84,562.5V542.23H600.47V562.5M600.47,562.5V542.60H604.09V562.5M604.09,562.5V543.16H607.72V562.5M607.72,562.5V547.26H611.35V562.5M611.35,562.5V543.16H614.97V562.5M614.97,562.5V535.16H618.60V562.5M618.60,562.5V546.88H622.23V562.5M622.23,562.5V540.93H625.86V562.5M625.86,562.5V536.09H629.48V562.5M629.48,562.5V543.16H633.11V562.5M633.11,562.5V549.12H636.74V562.5M636.74,562.5V542.23H640.36V562.5M640.36,562.5V548.19H643.99V562.5M643.99,562.5V550.23H647.62V562.5M647.62,562.5V548.19H651.24V562.5M651.24,562.5V528.84H654.87V562.5M654.87,562.5V542.23H658.50V562.5M658.50,562.5V547.26H662.13V562.5M662.13,562.5V521.21H665.75V562.5M665.75,562.5V525.12H669.38V562.5M669.38,562.5V535.16H673.01V562.5M673.01,562.5V535.16H676.63V562.5M676.63,562.5V538.14H680.26V562.5M680.26,562.5V542.23H683.89V562.5M683.89,562.5V539.07H687.51V562.5M687.51,562.5V545.40H691.14V562.5M691.14,562.5V545.40H694.77V562.5M694.77,562.5V546.33H698.40V562.5M698.40,562.5V536.09H702.02V562.5M702.02,562.5V470.23H705.65V562.5M705.65,562.5V510.23H709.28V562.5M709.28,562.5V465.00H712.90V562.5M712.90,562.5V472.16H716.53V562.5M716.53,562.5V418.19H720.16V562.5M720.16,562.5V440.19H723.78V562.5M723.78,562.5V418.19H727.41V562.5M727.41,562.5V442.74H731.04V562.5M731.04,562.5V449.65H734.67V562.5M734.67,562.5V429.95H738.29V562.5M738.29,562.5V459.12H741.92V562.5M741.92,562.5V483.42H745.55V562.5M745.55,562.5V492.37H749.17V562.5M749.17,562.5V487.26H752.80V562.5M752.80,562.5V455.28H756.43V562.5M756.43,562.5V456.05H760.05V562.5M760.05,562.5V498.26H763.68V562.5M763.68,562.5V516.17H767.31V562.5M767.31,562.5V488.54H770.94V562.5M770.94,562.5V461.16H774.56V562.5M774.56,562.5V472.16H778.19V562.5M778.19,562.5V428.42H781.82V562.5M781.82,562.5V455.28H785.44V562.5M785.44,562.5V475.23H789.07V562.5M789.07,562.5V477.02H792.70V562.5M792.70,562.5V450.16H796.32V562.5M796.32,562.5V457.33H799.95V562.5M799.95,562.5V491.35H803.58V562.5M803.58,562.5V476.51H807.21V562.5M807.21,562.5V482.14H810.83V562.5M810.83,562.5V495.19H814.46V562.5M814.46,562.5V492.37H818.09V562.5M818.09,562.5V505.17H821.71V562.5M821.71,562.5V500.05H825.34V562.5M825.34,562.5V511.05H828.97V562.5M828.97,562.5V510.28H832.59V562.5M832.59,562.5V495.19H836.22V562.5M836.22,562.5V519.24H839.85V562.5M839.85,562.5V528.19H843.48V562.5M843.48,562.5V452.21H847.10V562.5M847.10,562.5V492.37H850.73V562.5M850.73,562.5V504.14H854.36V562.5M854.36,562.5V514.12H857.98V562.5M857.98,562.5V503.37H861.61V562.5M861.61,562.5V523.07H865.24V562.5M865.24,562.5V531.51H868.86V562.5M868.86,562.5V515.40H872.49V562.5M872.49,562.5V514.12H876.12V562.5M876.12,562.5V492.37H879.75V562.5M879.75,562.5V426.12H883.37V562.5M883.37,562.5V466.28H887.00V562.5M887.00,562.5V452.21H890.63V562.5M890.63,562.5V493.91H894.25V562.5M894.25,562.5V523.07H897.88V562.5M897.88,562.5V517.44H901.51V562.5M901.51,562.5V524.35H905.13V562.5M905.13,562.5V526.40H908.76V562.5M908.76,562.5V529.72H912.39V562.5M912.39,562.5V535.35H916.02V562.5M916.02,562.5V525.63H919.64V562.5M919.64,562.5V529.16H923.27V562.5M923.27,562.5V529.16H926.90V562.5M926.90,562.5V532.41H930.52V562.5M930.52,562.5V534.39H934.15V562.5M934.15,562.5V519.29H937.78V562.5M937.78,562.5V534.39H941.40V562.5M941.40,562.5V540.45H945.03V562.5M945.03,562.5V536.50H948.66V562.5M948.66,562.5V538.34H952.29V562.5M952.29,562.5V542.57H955.91V562.5M955.91,562.5V543.56H959.54V562.5M959.54,562.5V538.34H963.17V562.5M963.17,562.5V532.41H966.79V562.5M966.79,562.5V533.40H970.42V562.5M970.42,562.5V539.47H974.05V562.5M974.05,562.5V538.34H977.67V562.5M977.67,562.5V537.35H981.30V562.5M981.30,562.5V530.29H984.93V562.5M984.93,562.5V539.47H988.56V562.5M988.56,562.5V546.38H992.18V562.5M992.18,562.5V541.44H995.81V562.5M995.81,562.5V544.41H999.44V562.5M999.44,562.5V548.50H1003.06V562.5M1003.06,562.5V543.28H1006.69V562.5M1006.69,562.5V549.34H1010.32V562.5M1010.32,562.5V549.34H1013.94V562.5M1013.94,562.5V547.51H1017.57V562.5M1017.57,562.5V537.35H1021.20V562.5M1021.20,562.5V541.44H1024.83V562.5M1024.83,562.5V541.44H1028.45V562.5M1028.45,562.5V547.51H1032.08V562.5M1032.08,562.5V523.24H1035.71V562.5M1035.71,562.5V532.41H1039.33V562.5M1039.33,562.5V542.57H1042.96V562.5M1042.96,562.5V544.41H1046.59V562.5M1046.59,562.5V546.38H1050.21V562.5M1050.21,562.5V543.56H1053.84V562.5M1053.84,562.5V544.41H1057.47V562.5M1057.47,562.5V546.38H1061.10V562.5M1061.10,562.5V548.50H1064.72V562.5M1064.72,562.5V555.55H1068.35V562.5" clip-path="url(#vc)" fill="none" stroke="#1f77b4" stroke-opacity="0.72" stroke-width="2.15"/>
</g>
<rect x="90.0" y="560.0" width="981.6" height="5" fill="#ffffff"/>
<g>
<line x1="94.50" x2="94.50" y1="396.07" y2="398.93" stroke="#e3212b" stroke-width="1" stroke-opacity="0.92"/>
<rect x="93.35" y="396.58" width="2.3" height="2.04" fill="#e3212b"/>
<line x1="98.13" x2="98.13" y1="396.07" y2="399.14" stroke="#e3212b" stroke-width="1" stroke-opacity="0.92"/>
<rect x="96.98" y="396.38" width="2.3" height="1.74" fill="#e3212b"/>
<line x1="101.75" x2="101.75" y1="395.05" y2="399.95" stroke="#1f8f2f" stroke-width="1" stroke-opacity="0.92"/>
<rect x="100.60" y="395.77" width="2.3" height="3.88" fill="#1f8f2f"/>
<line x1="105.38" x2="105.38" y1="388.92" y2="397.91" stroke="#e3212b" stroke-width="1" stroke-opacity="0.92"/>
<rect x="104.23" y="389.43" width="2.3" height="8.17" fill="#e3212b"/>
<line x1="109.01" x2="109.01" y1="383.61" y2="391.48" stroke="#e3212b" stroke-width="1" stroke-opacity="0.92"/>
<rect x="107.86" y="384.33" width="2.3" height="3.58" fill="#e3212b"/>
<line x1="112.63" x2="112.63" y1="380.24" y2="387.39" stroke="#e3212b" stroke-width="1" stroke-opacity="0.92"/>
<rect x="111.48" y="384.63" width="2.3" height="2.25" fill="#e3212b"/>
<line x1="116.26" x2="116.26" y1="384.33" y2="387.90" stroke="#1f8f2f" stroke-width="1" stroke-opacity="0.92"/>
<rect x="115.11" y="385.04" width="2.3" height="2.35" fill="#1f8f2f"/>
<line x1="119.89" x2="119.89" y1="382.28" y2="385.86" stroke="#1f8f2f" stroke-width="1" stroke-opacity="0.92"/>
<rect x="118.74" y="383.00" width="2.3" height="2.35" fill="#1f8f2f"/>
<line x1="123.52" x2="123.52" y1="379.73" y2="387.90" stroke="#e3212b" stroke-width="1" stroke-opacity="0.92"/>
<rect x="122.37" y="380.24" width="2.3" height="7.15" fill="#e3212b"/>
<line x1="127.14" x2="127.14" y1="379.73" y2="387.08" stroke="#1f8f2f" stroke-width="1" stroke-opacity="0.92"/>
<rect x="125.99" y="380.24" width="2.3" height="4.80" fill="#1f8f2f"/>
<line x1="130.77" x2="130.77" y1="384.84" y2="390.45" stroke="#e3212b" stroke-width="1" stroke-opacity="0.92"/>
<rect x="129.62" y="385.35" width="2.3" height="2.55" fill="#e3212b"/>
<line x1="134.40" x2="134.40" y1="384.33" y2="389.94" stroke="#1f8f2f" stroke-width="1" stroke-opacity="0.92"/>
<rect x="133.25" y="385.35" width="2.3" height="4.09" fill="#1f8f2f"/>
<line x1="138.02" x2="138.02" y1="388.41" y2="394.03" stroke="#1f8f2f" stroke-width="1" stroke-opacity="0.92"/>
<rect x="136.87" y="388.92" width="2.3" height="4.60" fill="#1f8f2f"/>
<line x1="141.65" x2="141.65" y1="392.19" y2="399.34" stroke="#1f8f2f" stroke-width="1" stroke-opacity="0.92"/>
<rect x="140.50" y="393.01" width="2.3" height="5.11" fill="#1f8f2f"/>
<line x1="145.28" x2="145.28" y1="390.45" y2="398.12" stroke="#e3212b" stroke-width="1" stroke-opacity="0.92"/>
<rect x="144.13" y="391.48" width="2.3" height="6.13" fill="#e3212b"/>
<line x1="148.91" x2="148.91" y1="386.37" y2="393.01" stroke="#e3212b" stroke-width="1" stroke-opacity="0.92"/>
<rect x="147.75" y="386.88" width="2.3" height="5.62" fill="#e3212b"/>
<line x1="152.53" x2="152.53" y1="385.86" y2="390.45" stroke="#1f8f2f" stroke-width="1" stroke-opacity="0.92"/>
<rect x="151.38" y="387.08" width="2.3" height="2.86" fill="#1f8f2f"/>
<line x1="156.16" x2="156.16" y1="387.39" y2="394.03" stroke="#1f8f2f" stroke-width="1" stroke-opacity="0.92"/>
<rect x="155.01" y="388.92" width="2.3" height="4.60" fill="#1f8f2f"/>
<line x1="159.79" x2="159.79" y1="388.92" y2="395.26" stroke="#e3212b" stroke-width="1" stroke-opacity="0.92"/>
<rect x="158.64" y="389.64" width="2.3" height="3.88" fill="#e3212b"/>
<line x1="163.41" x2="163.41" y1="389.94" y2="395.05" stroke="#1f8f2f" stroke-width="1" stroke-opacity="0.92"/>
<rect x="162.26" y="390.45" width="2.3" height="4.09" fill="#1f8f2f"/>
<line x1="167.04" x2="167.04" y1="391.48" y2="398.32" stroke="#e3212b" stroke-width="1" stroke-opacity="0.92"/>
<rect x="165.89" y="392.19" width="2.3" height="3.88" fill="#e3212b"/>
<line x1="170.67" x2="170.67" y1="390.97" y2="395.05" stroke="#1f8f2f" stroke-width="1" stroke-opacity="0.92"/>
<rect x="169.52" y="391.68" width="2.3" height="2.86" fill="#1f8f2f"/>
<line x1="174.29" x2="174.29" y1="382.79" y2="395.05" stroke="#e3212b" stroke-width="1" stroke-opacity="0.92"/>
<rect x="173.14" y="383.30" width="2.3" height="11.24" fill="#e3212b"/>
<line x1="177.92" x2="177.92" y1="372.37" y2="383.61" stroke="#e3212b" stroke-width="1" stroke-opacity="0.92"/>
<rect x="176.77" y="376.15" width="2.3" height="4.60" fill="#e3212b"/>
<line x1="181.55" x2="181.55" y1="375.13" y2="379.22" stroke="#1f8f2f" stroke-width="1" stroke-opacity="0.92"/>
<rect x="180.40" y="376.15" width="2.3" height="2.55" fill="#1f8f2f"/>
<line x1="185.18" x2="185.18" y1="372.37" y2="380.75" stroke="#e3212b" stroke-width="1" stroke-opacity="0.92"/>
<rect x="184.03" y="376.66" width="2.3" height="3.58" fill="#e3212b"/>
<line x1="188.80" x2="188.80" y1="372.58" y2="378.71" stroke="#e3212b" stroke-width="1" stroke-opacity="0.92"/>
<rect x="187.65" y="374.11" width="2.3" height="4.09" fill="#e3212b"/>
<line x1="192.43" x2="192.43" y1="362.58" y2="379.43" stroke="#e3212b" stroke-width="1" stroke-opacity="0.92"/>
<rect x="191.28" y="369.22" width="2.3" height="5.62" fill="#e3212b"/>
<line x1="196.06" x2="196.06" y1="355.94" y2="373.30" stroke="#e3212b" stroke-width="1" stroke-opacity="0.92"/>
<rect x="194.91" y="364.62" width="2.3" height="7.15" fill="#e3212b"/>
<line x1="199.68" x2="199.68" y1="356.96" y2="366.66" stroke="#e3212b" stroke-width="1" stroke-opacity="0.92"/>
<rect x="198.53" y="361.05" width="2.3" height="3.06" fill="#e3212b"/>
<line x1="203.31" x2="203.31" y1="364.62" y2="371.26" stroke="#1f8f2f" stroke-width="1" stroke-opacity="0.92"/>
<rect x="202.16" y="365.13" width="2.3" height="2.55" fill="#1f8f2f"/>
<line x1="206.94" x2="206.94" y1="367.69" y2="372.28" stroke="#1f8f2f" stroke-width="1" stroke-opacity="0.92"/>
<rect x="205.79" y="368.20" width="2.3" height="2.55" fill="#1f8f2f"/>
<line x1="210.56" x2="210.56" y1="369.73" y2="375.35" stroke="#1f8f2f" stroke-width="1" stroke-opacity="0.92"/>
<rect x="209.41" y="370.24" width="2.3" height="4.60" fill="#1f8f2f"/>
<line x1="214.19" x2="214.19" y1="361.76" y2="375.86" stroke="#e3212b" stroke-width="1" stroke-opacity="0.92"/>
<rect x="213.04" y="362.07" width="2.3" height="13.59" fill="#e3212b"/>
<line x1="217.82" x2="217.82" y1="362.07" y2="374.84" stroke="#1f8f2f" stroke-width="1" stroke-opacity="0.92"/>
<rect x="216.67" y="364.11" width="2.3" height="10.21" fill="#1f8f2f"/>
<line x1="221.44" x2="221.44" y1="367.69" y2="373.00" stroke="#e3212b" stroke-width="1" stroke-opacity="0.92"/>
<rect x="220.29" y="369.22" width="2.3" height="3.37" fill="#e3212b"/>
<line x1="225.07" x2="225.07" y1="369.73" y2="374.84" stroke="#1f8f2f" stroke-width="1" stroke-opacity="0.92"/>
<rect x="223.92" y="370.24" width="2.3" height="2.04" fill="#1f8f2f"/>
<line x1="228.70" x2="228.70" y1="367.69" y2="373.82" stroke="#e3212b" stroke-width="1" stroke-opacity="0.92"/>
<rect x="227.55" y="370.75" width="2.3" height="2.86" fill="#e3212b"/>
<line x1="232.33" x2="232.33" y1="370.75" y2="378.92" stroke="#1f8f2f" stroke-width="1" stroke-opacity="0.92"/>
<rect x="231.18" y="371.77" width="2.3" height="6.64" fill="#1f8f2f"/>
<line x1="235.95" x2="235.95" y1="365.23" y2="366.15" stroke="#1f8f2f" stroke-width="1" stroke-opacity="0.92"/>
<rect x="234.80" y="365.34" width="2.3" height="0.70" fill="#1f8f2f"/>
<line x1="239.58" x2="239.58" y1="354.41" y2="365.13" stroke="#1f8f2f" stroke-width="1" stroke-opacity="0.92"/>
<rect x="238.43" y="355.22" width="2.3" height="6.84" fill="#1f8f2f"/>
<line x1="243.21" x2="243.21" y1="348.28" y2="363.60" stroke="#e3212b" stroke-width="1" stroke-opacity="0.92"/>
<rect x="242.06" y="352.88" width="2.3" height="10.21" fill="#e3212b"/>
<line x1="246.83" x2="246.83" y1="347.77" y2="360.03" stroke="#1f8f2f" stroke-width="1" stroke-opacity="0.92"/>
<rect x="245.68" y="355.22" width="2.3" height="3.78" fill="#1f8f2f"/>
<line x1="250.46" x2="250.46" y1="352.16" y2="360.23" stroke="#1f8f2f" stroke-width="1" stroke-opacity="0.92"/>
<rect x="249.31" y="358.70" width="2.3" height="1.33" fill="#1f8f2f"/>
<line x1="254.09" x2="254.09" y1="360.54" y2="369.73" stroke="#1f8f2f" stroke-width="1" stroke-opacity="0.92"/>
<rect x="252.94" y="361.05" width="2.3" height="8.48" fill="#1f8f2f"/>
<line x1="257.72" x2="257.72" y1="365.64" y2="372.79" stroke="#e3212b" stroke-width="1" stroke-opacity="0.92"/>
<rect x="256.57" y="366.87" width="2.3" height="3.37" fill="#e3212b"/>
<line x1="261.34" x2="261.34" y1="367.69" y2="379.94" stroke="#1f8f2f" stroke-width="1" stroke-opacity="0.92"/>
<rect x="260.19" y="368.20" width="2.3" height="11.24" fill="#1f8f2f"/>
<line x1="264.97" x2="264.97" y1="378.41" y2="383.21" stroke="#1f8f2f" stroke-width="1" stroke-opacity="0.92"/>
<rect x="263.82" y="380.97" width="2.3" height="1.84" fill="#1f8f2f"/>
<line x1="268.60" x2="268.60" y1="376.88" y2="382.50" stroke="#e3212b" stroke-width="1" stroke-opacity="0.92"/>
<rect x="267.45" y="377.39" width="2.3" height="4.39" fill="#e3212b"/>
<line x1="272.22" x2="272.22" y1="370.75" y2="379.94" stroke="#e3212b" stroke-width="1" stroke-opacity="0.92"/>
<rect x="271.07" y="373.30" width="2.3" height="5.62" fill="#e3212b"/>
<line x1="275.85" x2="275.85" y1="365.13" y2="375.86" stroke="#e3212b" stroke-width="1" stroke-opacity="0.92"/>
<rect x="274.70" y="369.73" width="2.3" height="4.60" fill="#e3212b"/>
<line x1="279.48" x2="279.48" y1="362.37" y2="371.98" stroke="#e3212b" stroke-width="1" stroke-opacity="0.92"/>
<rect x="278.33" y="368.20" width="2.3" height="3.06" fill="#e3212b"/>
<line x1="283.10" x2="283.10" y1="363.60" y2="371.57" stroke="#e3212b" stroke-width="1" stroke-opacity="0.92"/>
<rect x="281.95" y="367.69" width="2.3" height="3.27" fill="#e3212b"/>
<line x1="286.73" x2="286.73" y1="355.22" y2="370.24" stroke="#e3212b" stroke-width="1" stroke-opacity="0.92"/>
<rect x="285.58" y="356.65" width="2.3" height="13.07" fill="#e3212b"/>
<line x1="290.36" x2="290.36" y1="351.85" y2="359.00" stroke="#e3212b" stroke-width="1" stroke-opacity="0.92"/>
<rect x="289.21" y="353.90" width="2.3" height="4.09" fill="#e3212b"/>
<line x1="293.99" x2="293.99" y1="353.39" y2="360.33" stroke="#1f8f2f" stroke-width="1" stroke-opacity="0.92"/>
<rect x="292.84" y="355.94" width="2.3" height="3.58" fill="#1f8f2f"/>
<line x1="297.61" x2="297.61" y1="345.21" y2="355.94" stroke="#e3212b" stroke-width="1" stroke-opacity="0.92"/>
<rect x="296.46" y="350.83" width="2.3" height="4.60" fill="#e3212b"/>
<line x1="301.24" x2="301.24" y1="349.08" y2="353.66" stroke="#1f8f2f" stroke-width="1" stroke-opacity="0.92"/>
<rect x="300.09" y="350.28" width="2.3" height="2.39" fill="#1f8f2f"/>
<line x1="304.87" x2="304.87" y1="348.28" y2="353.07" stroke="#e3212b" stroke-width="1" stroke-opacity="0.92"/>
<rect x="303.72" y="349.68" width="2.3" height="2.59" fill="#e3212b"/>
<line x1="308.49" x2="308.49" y1="341.71" y2="352.67" stroke="#e3212b" stroke-width="1" stroke-opacity="0.92"/>
<rect x="307.34" y="347.29" width="2.3" height="4.39" fill="#e3212b"/>
<line x1="312.12" x2="312.12" y1="331.74" y2="348.28" stroke="#e3212b" stroke-width="1" stroke-opacity="0.92"/>
<rect x="310.97" y="332.34" width="2.3" height="15.35" fill="#e3212b"/>
<line x1="315.75" x2="315.75" y1="315.79" y2="333.13" stroke="#e3212b" stroke-width="1" stroke-opacity="0.92"/>
<rect x="314.60" y="316.39" width="2.3" height="16.34" fill="#e3212b"/>
<line x1="319.37" x2="319.37" y1="297.85" y2="311.21" stroke="#1f8f2f" stroke-width="1" stroke-opacity="0.92"/>
<rect x="318.22" y="301.84" width="2.3" height="2.39" fill="#1f8f2f"/>
<line x1="323.00" x2="323.00" y1="286.49" y2="304.83" stroke="#e3212b" stroke-width="1" stroke-opacity="0.92"/>
<rect x="321.85" y="297.85" width="2.3" height="6.58" fill="#e3212b"/>
<line x1="326.63" x2="326.63" y1="278.52" y2="306.82" stroke="#e3212b" stroke-width="1" stroke-opacity="0.92"/>
<rect x="325.48" y="279.92" width="2.3" height="26.51" fill="#e3212b"/>
<line x1="330.25" x2="330.25" y1="279.92" y2="290.88" stroke="#e3212b" stroke-width="1" stroke-opacity="0.92"/>
<rect x="329.11" y="281.91" width="2.3" height="6.98" fill="#e3212b"/>
<line x1="333.88" x2="333.88" y1="282.91" y2="288.88" stroke="#e3212b" stroke-width="1" stroke-opacity="0.92"/>
<rect x="332.73" y="284.90" width="2.3" height="2.99" fill="#e3212b"/>
<line x1="337.51" x2="337.51" y1="268.55" y2="288.49" stroke="#e3212b" stroke-width="1" stroke-opacity="0.92"/>
<rect x="336.36" y="270.55" width="2.3" height="16.34" fill="#e3212b"/>
<line x1="341.14" x2="341.14" y1="272.54" y2="283.90" stroke="#e3212b" stroke-width="1" stroke-opacity="0.92"/>
<rect x="339.99" y="273.94" width="2.3" height="4.98" fill="#e3212b"/>
<line x1="344.76" x2="344.76" y1="267.36" y2="284.90" stroke="#1f8f2f" stroke-width="1" stroke-opacity="0.92"/>
<rect x="343.61" y="272.54" width="2.3" height="10.36" fill="#1f8f2f"/>
<line x1="348.39" x2="348.39" y1="279.92" y2="287.89" stroke="#e3212b" stroke-width="1" stroke-opacity="0.92"/>
<rect x="347.24" y="280.91" width="2.3" height="5.98" fill="#e3212b"/>
<line x1="352.02" x2="352.02" y1="258.59" y2="286.49" stroke="#e3212b" stroke-width="1" stroke-opacity="0.92"/>
<rect x="350.87" y="259.39" width="2.3" height="26.51" fill="#e3212b"/>
<line x1="355.64" x2="355.64" y1="237.94" y2="271.44" stroke="#e3212b" stroke-width="1" stroke-opacity="0.92"/>
<rect x="354.49" y="250.50" width="2.3" height="19.44" fill="#e3212b"/>
<line x1="359.27" x2="359.27" y1="225.08" y2="260.97" stroke="#e3212b" stroke-width="1" stroke-opacity="0.92"/>
<rect x="358.12" y="226.58" width="2.3" height="32.89" fill="#e3212b"/>
<line x1="362.90" x2="362.90" y1="198.17" y2="220.60" stroke="#e3212b" stroke-width="1" stroke-opacity="0.92"/>
<rect x="361.75" y="199.67" width="2.3" height="19.44" fill="#e3212b"/>
<line x1="366.52" x2="366.52" y1="168.35" y2="205.73" stroke="#e3212b" stroke-width="1" stroke-opacity="0.92"/>
<rect x="365.38" y="169.10" width="2.3" height="27.66" fill="#e3212b"/>
<line x1="370.15" x2="370.15" y1="171.34" y2="202.74" stroke="#1f8f2f" stroke-width="1" stroke-opacity="0.92"/>
<rect x="369.00" y="186.00" width="2.3" height="16.00" fill="#1f8f2f"/>
<line x1="373.78" x2="373.78" y1="172.84" y2="216.19" stroke="#e3212b" stroke-width="1" stroke-opacity="0.92"/>
<rect x="372.63" y="173.59" width="2.3" height="41.56" fill="#e3212b"/>
<line x1="377.41" x2="377.41" y1="142.19" y2="181.06" stroke="#e3212b" stroke-width="1" stroke-opacity="0.92"/>
<rect x="376.26" y="142.34" width="2.3" height="12.56" fill="#e3212b"/>
<line x1="381.03" x2="381.03" y1="106.01" y2="152.66" stroke="#e3212b" stroke-width="1" stroke-opacity="0.92"/>
<rect x="379.88" y="106.31" width="2.3" height="45.60" fill="#e3212b"/>
<line x1="384.66" x2="384.66" y1="112.74" y2="146.68" stroke="#1f8f2f" stroke-width="1" stroke-opacity="0.92"/>
<rect x="383.51" y="113.04" width="2.3" height="32.89" fill="#1f8f2f"/>
<line x1="388.29" x2="388.29" y1="145.93" y2="180.31" stroke="#1f8f2f" stroke-width="1" stroke-opacity="0.92"/>
<rect x="387.14" y="147.42" width="2.3" height="3.74" fill="#1f8f2f"/>
<line x1="391.91" x2="391.91" y1="152.66" y2="196.01" stroke="#e3212b" stroke-width="1" stroke-opacity="0.92"/>
<rect x="390.76" y="172.09" width="2.3" height="23.17" fill="#e3212b"/>
<line x1="395.54" x2="395.54" y1="160.88" y2="184.05" stroke="#e3212b" stroke-width="1" stroke-opacity="0.92"/>
<rect x="394.39" y="162.37" width="2.3" height="16.44" fill="#e3212b"/>
<line x1="399.17" x2="399.17" y1="154.90" y2="168.35" stroke="#e3212b" stroke-width="1" stroke-opacity="0.92"/>
<rect x="398.02" y="163.12" width="2.3" height="4.48" fill="#e3212b"/>
<line x1="402.79" x2="402.79" y1="168.35" y2="187.79" stroke="#1f8f2f" stroke-width="1" stroke-opacity="0.92"/>
<rect x="401.64" y="170.60" width="2.3" height="12.71" fill="#1f8f2f"/>
<line x1="406.42" x2="406.42" y1="162.37" y2="177.32" stroke="#1f8f2f" stroke-width="1" stroke-opacity="0.92"/>
<rect x="405.27" y="170.60" width="2.3" height="2.24" fill="#1f8f2f"/>
<line x1="410.05" x2="410.05" y1="163.12" y2="184.05" stroke="#e3212b" stroke-width="1" stroke-opacity="0.92"/>
<rect x="408.90" y="168.35" width="2.3" height="8.22" fill="#e3212b"/>
<line x1="413.68" x2="413.68" y1="133.22" y2="169.10" stroke="#e3212b" stroke-width="1" stroke-opacity="0.92"/>
<rect x="412.53" y="142.94" width="2.3" height="22.42" fill="#e3212b"/>
<line x1="417.30" x2="417.30" y1="145.18" y2="169.85" stroke="#1f8f2f" stroke-width="1" stroke-opacity="0.92"/>
<rect x="416.15" y="154.15" width="2.3" height="11.21" fill="#1f8f2f"/>
<line x1="420.93" x2="420.93" y1="147.42" y2="175.08" stroke="#e3212b" stroke-width="1" stroke-opacity="0.92"/>
<rect x="419.78" y="165.07" width="2.3" height="9.27" fill="#e3212b"/>
<line x1="424.56" x2="424.56" y1="131.73" y2="180.31" stroke="#e3212b" stroke-width="1" stroke-opacity="0.92"/>
<rect x="423.41" y="132.18" width="2.3" height="40.66" fill="#e3212b"/>
<line x1="428.18" x2="428.18" y1="119.77" y2="144.43" stroke="#1f8f2f" stroke-width="1" stroke-opacity="0.92"/>
<rect x="427.03" y="132.18" width="2.3" height="7.03" fill="#1f8f2f"/>
<line x1="431.81" x2="431.81" y1="132.47" y2="143.69" stroke="#e3212b" stroke-width="1" stroke-opacity="0.92"/>
<rect x="430.66" y="133.22" width="2.3" height="5.53" fill="#e3212b"/>
<line x1="435.44" x2="435.44" y1="114.54" y2="153.40" stroke="#1f8f2f" stroke-width="1" stroke-opacity="0.92"/>
<rect x="434.29" y="141.15" width="2.3" height="11.51" fill="#1f8f2f"/>
<line x1="439.06" x2="439.06" y1="140.70" y2="178.07" stroke="#e3212b" stroke-width="1" stroke-opacity="0.92"/>
<rect x="437.92" y="159.38" width="2.3" height="4.78" fill="#e3212b"/>
<line x1="442.69" x2="442.69" y1="163.12" y2="181.06" stroke="#1f8f2f" stroke-width="1" stroke-opacity="0.92"/>
<rect x="441.54" y="168.06" width="2.3" height="4.48" fill="#1f8f2f"/>
<line x1="446.32" x2="446.32" y1="164.62" y2="181.06" stroke="#1f8f2f" stroke-width="1" stroke-opacity="0.92"/>
<rect x="445.17" y="175.08" width="2.3" height="5.23" fill="#1f8f2f"/>
<line x1="449.95" x2="449.95" y1="174.33" y2="188.99" stroke="#e3212b" stroke-width="1" stroke-opacity="0.92"/>
<rect x="448.80" y="186.00" width="2.3" height="2.54" fill="#e3212b"/>
<line x1="453.57" x2="453.57" y1="181.81" y2="188.54" stroke="#1f8f2f" stroke-width="1" stroke-opacity="0.92"/>
<rect x="452.42" y="184.80" width="2.3" height="2.99" fill="#1f8f2f"/>
<line x1="457.20" x2="457.20" y1="189.73" y2="203.22" stroke="#1f8f2f" stroke-width="1" stroke-opacity="0.92"/>
<rect x="456.05" y="190.76" width="2.3" height="11.42" fill="#1f8f2f"/>
<line x1="460.83" x2="460.83" y1="200.11" y2="217.34" stroke="#1f8f2f" stroke-width="1" stroke-opacity="0.92"/>
<rect x="459.68" y="202.18" width="2.3" height="3.53" fill="#1f8f2f"/>
<line x1="464.45" x2="464.45" y1="201.15" y2="208.41" stroke="#1f8f2f" stroke-width="1" stroke-opacity="0.92"/>
<rect x="463.30" y="203.22" width="2.3" height="3.74" fill="#1f8f2f"/>
<line x1="468.08" x2="468.08" y1="202.81" y2="207.79" stroke="#1f8f2f" stroke-width="1" stroke-opacity="0.92"/>
<rect x="466.93" y="203.64" width="2.3" height="3.32" fill="#1f8f2f"/>
<line x1="471.71" x2="471.71" y1="205.30" y2="219.83" stroke="#1f8f2f" stroke-width="1" stroke-opacity="0.92"/>
<rect x="470.56" y="211.11" width="2.3" height="7.68" fill="#1f8f2f"/>
<line x1="475.33" x2="475.33" y1="237.48" y2="245.79" stroke="#1f8f2f" stroke-width="1" stroke-opacity="0.92"/>
<rect x="474.19" y="239.56" width="2.3" height="3.11" fill="#1f8f2f"/>
<line x1="478.96" x2="478.96" y1="250.98" y2="272.16" stroke="#1f8f2f" stroke-width="1" stroke-opacity="0.92"/>
<rect x="477.81" y="258.25" width="2.3" height="13.50" fill="#1f8f2f"/>
<line x1="482.59" x2="482.59" y1="247.87" y2="287.94" stroke="#e3212b" stroke-width="1" stroke-opacity="0.92"/>
<rect x="481.44" y="248.49" width="2.3" height="23.67" fill="#e3212b"/>
<line x1="486.22" x2="486.22" y1="223.99" y2="240.60" stroke="#e3212b" stroke-width="1" stroke-opacity="0.92"/>
<rect x="485.07" y="230.22" width="2.3" height="8.31" fill="#e3212b"/>
<line x1="489.84" x2="489.84" y1="203.22" y2="235.41" stroke="#e3212b" stroke-width="1" stroke-opacity="0.92"/>
<rect x="488.69" y="206.34" width="2.3" height="28.03" fill="#e3212b"/>
<line x1="493.47" x2="493.47" y1="200.11" y2="214.64" stroke="#1f8f2f" stroke-width="1" stroke-opacity="0.92"/>
<rect x="492.32" y="206.96" width="2.3" height="3.53" fill="#1f8f2f"/>
<line x1="497.10" x2="497.10" y1="204.26" y2="214.64" stroke="#1f8f2f" stroke-width="1" stroke-opacity="0.92"/>
<rect x="495.95" y="205.71" width="2.3" height="5.40" fill="#1f8f2f"/>
<line x1="500.72" x2="500.72" y1="195.96" y2="214.64" stroke="#e3212b" stroke-width="1" stroke-opacity="0.92"/>
<rect x="499.57" y="204.26" width="2.3" height="9.34" fill="#e3212b"/>
<line x1="504.35" x2="504.35" y1="191.80" y2="208.41" stroke="#e3212b" stroke-width="1" stroke-opacity="0.92"/>
<rect x="503.20" y="202.18" width="2.3" height="5.19" fill="#e3212b"/>
<line x1="507.98" x2="507.98" y1="203.22" y2="217.76" stroke="#1f8f2f" stroke-width="1" stroke-opacity="0.92"/>
<rect x="506.83" y="204.26" width="2.3" height="8.31" fill="#1f8f2f"/>
<line x1="511.60" x2="511.60" y1="200.73" y2="222.95" stroke="#e3212b" stroke-width="1" stroke-opacity="0.92"/>
<rect x="510.45" y="201.15" width="2.3" height="20.76" fill="#e3212b"/>
<line x1="515.23" x2="515.23" y1="194.50" y2="207.79" stroke="#1f8f2f" stroke-width="1" stroke-opacity="0.92"/>
<rect x="514.08" y="194.92" width="2.3" height="12.46" fill="#1f8f2f"/>
<line x1="518.86" x2="518.86" y1="177.89" y2="204.88" stroke="#e3212b" stroke-width="1" stroke-opacity="0.92"/>
<rect x="517.71" y="182.04" width="2.3" height="22.22" fill="#e3212b"/>
<line x1="522.49" x2="522.49" y1="180.38" y2="199.07" stroke="#1f8f2f" stroke-width="1" stroke-opacity="0.92"/>
<rect x="521.34" y="184.12" width="2.3" height="9.76" fill="#1f8f2f"/>
<line x1="526.11" x2="526.11" y1="191.80" y2="199.07" stroke="#1f8f2f" stroke-width="1" stroke-opacity="0.92"/>
<rect x="524.96" y="192.84" width="2.3" height="5.19" fill="#1f8f2f"/>
<line x1="529.74" x2="529.74" y1="198.03" y2="209.87" stroke="#1f8f2f" stroke-width="1" stroke-opacity="0.92"/>
<rect x="528.59" y="201.15" width="2.3" height="8.31" fill="#1f8f2f"/>
<line x1="533.37" x2="533.37" y1="201.15" y2="211.11" stroke="#e3212b" stroke-width="1" stroke-opacity="0.92"/>
<rect x="532.22" y="204.26" width="2.3" height="6.23" fill="#e3212b"/>
<line x1="536.99" x2="536.99" y1="187.84" y2="201.54" stroke="#e3212b" stroke-width="1" stroke-opacity="0.92"/>
<rect x="535.84" y="189.12" width="2.3" height="9.32" fill="#e3212b"/>
<line x1="540.62" x2="540.62" y1="185.46" y2="196.06" stroke="#e3212b" stroke-width="1" stroke-opacity="0.92"/>
<rect x="539.47" y="186.93" width="2.3" height="5.48" fill="#e3212b"/>
<line x1="544.25" x2="544.25" y1="174.14" y2="191.49" stroke="#1f8f2f" stroke-width="1" stroke-opacity="0.92"/>
<rect x="543.10" y="182.36" width="2.3" height="4.57" fill="#1f8f2f"/>
<line x1="547.88" x2="547.88" y1="177.79" y2="190.21" stroke="#e3212b" stroke-width="1" stroke-opacity="0.92"/>
<rect x="546.73" y="186.01" width="2.3" height="3.65" fill="#e3212b"/>
<line x1="551.50" x2="551.50" y1="188.75" y2="200.63" stroke="#1f8f2f" stroke-width="1" stroke-opacity="0.92"/>
<rect x="550.35" y="189.67" width="2.3" height="9.14" fill="#1f8f2f"/>
<line x1="555.13" x2="555.13" y1="188.39" y2="194.60" stroke="#e3212b" stroke-width="1" stroke-opacity="0.92"/>
<rect x="553.98" y="189.12" width="2.3" height="4.75" fill="#e3212b"/>
<line x1="558.76" x2="558.76" y1="186.56" y2="196.98" stroke="#1f8f2f" stroke-width="1" stroke-opacity="0.92"/>
<rect x="557.61" y="186.93" width="2.3" height="9.50" fill="#1f8f2f"/>
<line x1="562.38" x2="562.38" y1="197.52" y2="200.63" stroke="#1f8f2f" stroke-width="1" stroke-opacity="0.92"/>
<rect x="561.23" y="197.89" width="2.3" height="2.19" fill="#1f8f2f"/>
<line x1="566.01" x2="566.01" y1="200.08" y2="212.14" stroke="#1f8f2f" stroke-width="1" stroke-opacity="0.92"/>
<rect x="564.86" y="200.63" width="2.3" height="10.96" fill="#1f8f2f"/>
<line x1="569.64" x2="569.64" y1="207.02" y2="215.25" stroke="#e3212b" stroke-width="1" stroke-opacity="0.92"/>
<rect x="568.49" y="212.87" width="2.3" height="1.83" fill="#e3212b"/>
<line x1="573.26" x2="573.26" y1="214.33" y2="223.83" stroke="#1f8f2f" stroke-width="1" stroke-opacity="0.92"/>
<rect x="572.11" y="215.25" width="2.3" height="4.57" fill="#1f8f2f"/>
<line x1="576.89" x2="576.89" y1="215.25" y2="221.64" stroke="#e3212b" stroke-width="1" stroke-opacity="0.92"/>
<rect x="575.74" y="217.07" width="2.3" height="2.74" fill="#e3212b"/>
<line x1="580.52" x2="580.52" y1="217.07" y2="223.10" stroke="#1f8f2f" stroke-width="1" stroke-opacity="0.92"/>
<rect x="579.37" y="217.99" width="2.3" height="3.65" fill="#1f8f2f"/>
<line x1="584.14" x2="584.14" y1="213.42" y2="222.01" stroke="#e3212b" stroke-width="1" stroke-opacity="0.92"/>
<rect x="583.00" y="217.99" width="2.3" height="2.74" fill="#e3212b"/>
<line x1="587.77" x2="587.77" y1="220.73" y2="228.58" stroke="#1f8f2f" stroke-width="1" stroke-opacity="0.92"/>
<rect x="586.62" y="222.56" width="2.3" height="5.48" fill="#1f8f2f"/>
<line x1="591.40" x2="591.40" y1="227.12" y2="234.43" stroke="#1f8f2f" stroke-width="1" stroke-opacity="0.92"/>
<rect x="590.25" y="228.04" width="2.3" height="4.57" fill="#1f8f2f"/>
<line x1="595.03" x2="595.03" y1="231.69" y2="241.37" stroke="#1f8f2f" stroke-width="1" stroke-opacity="0.92"/>
<rect x="593.88" y="232.24" width="2.3" height="8.04" fill="#1f8f2f"/>
<line x1="598.65" x2="598.65" y1="237.17" y2="243.20" stroke="#1f8f2f" stroke-width="1" stroke-opacity="0.92"/>
<rect x="597.50" y="237.72" width="2.3" height="4.93" fill="#1f8f2f"/>
<line x1="602.28" x2="602.28" y1="238.63" y2="242.84" stroke="#e3212b" stroke-width="1" stroke-opacity="0.92"/>
<rect x="601.13" y="239.55" width="2.3" height="2.56" fill="#e3212b"/>
<line x1="605.91" x2="605.91" y1="240.83" y2="249.41" stroke="#1f8f2f" stroke-width="1" stroke-opacity="0.92"/>
<rect x="604.76" y="241.74" width="2.3" height="7.31" fill="#1f8f2f"/>
<line x1="609.53" x2="609.53" y1="246.31" y2="252.34" stroke="#e3212b" stroke-width="1" stroke-opacity="0.92"/>
<rect x="608.38" y="246.86" width="2.3" height="4.93" fill="#e3212b"/>
<line x1="613.16" x2="613.16" y1="242.65" y2="248.14" stroke="#e3212b" stroke-width="1" stroke-opacity="0.92"/>
<rect x="612.01" y="243.93" width="2.3" height="3.29" fill="#e3212b"/>
<line x1="616.79" x2="616.79" y1="238.09" y2="247.59" stroke="#e3212b" stroke-width="1" stroke-opacity="0.92"/>
<rect x="615.64" y="239.91" width="2.3" height="5.48" fill="#e3212b"/>
<line x1="620.41" x2="620.41" y1="241.74" y2="246.31" stroke="#1f8f2f" stroke-width="1" stroke-opacity="0.92"/>
<rect x="619.26" y="242.65" width="2.3" height="2.74" fill="#1f8f2f"/>
<line x1="624.04" x2="624.04" y1="239.91" y2="244.66" stroke="#e3212b" stroke-width="1" stroke-opacity="0.92"/>
<rect x="622.89" y="240.83" width="2.3" height="3.11" fill="#e3212b"/>
<line x1="627.67" x2="627.67" y1="243.57" y2="254.53" stroke="#1f8f2f" stroke-width="1" stroke-opacity="0.92"/>
<rect x="626.52" y="244.48" width="2.3" height="4.57" fill="#1f8f2f"/>
<line x1="631.30" x2="631.30" y1="243.57" y2="250.51" stroke="#e3212b" stroke-width="1" stroke-opacity="0.92"/>
<rect x="630.15" y="245.39" width="2.3" height="4.02" fill="#e3212b"/>
<line x1="634.92" x2="634.92" y1="245.03" y2="249.41" stroke="#1f8f2f" stroke-width="1" stroke-opacity="0.92"/>
<rect x="633.77" y="245.76" width="2.3" height="2.92" fill="#1f8f2f"/>
<line x1="638.55" x2="638.55" y1="248.14" y2="257.27" stroke="#1f8f2f" stroke-width="1" stroke-opacity="0.92"/>
<rect x="637.40" y="249.41" width="2.3" height="7.31" fill="#1f8f2f"/>
<line x1="642.18" x2="642.18" y1="253.90" y2="257.23" stroke="#e3212b" stroke-width="1" stroke-opacity="0.92"/>
<rect x="641.03" y="254.40" width="2.3" height="2.33" fill="#e3212b"/>
<line x1="645.80" x2="645.80" y1="253.41" y2="258.06" stroke="#1f8f2f" stroke-width="1" stroke-opacity="0.92"/>
<rect x="644.65" y="253.90" width="2.3" height="3.82" fill="#1f8f2f"/>
<line x1="649.43" x2="649.43" y1="254.73" y2="258.89" stroke="#e3212b" stroke-width="1" stroke-opacity="0.92"/>
<rect x="648.28" y="255.07" width="2.3" height="2.99" fill="#e3212b"/>
<line x1="653.06" x2="653.06" y1="248.09" y2="258.06" stroke="#1f8f2f" stroke-width="1" stroke-opacity="0.92"/>
<rect x="651.91" y="255.56" width="2.3" height="1.99" fill="#1f8f2f"/>
<line x1="656.68" x2="656.68" y1="255.56" y2="264.37" stroke="#1f8f2f" stroke-width="1" stroke-opacity="0.92"/>
<rect x="655.53" y="256.40" width="2.3" height="7.48" fill="#1f8f2f"/>
<line x1="660.31" x2="660.31" y1="261.05" y2="268.02" stroke="#e3212b" stroke-width="1" stroke-opacity="0.92"/>
<rect x="659.16" y="261.71" width="2.3" height="5.98" fill="#e3212b"/>
<line x1="663.94" x2="663.94" y1="246.76" y2="262.21" stroke="#e3212b" stroke-width="1" stroke-opacity="0.92"/>
<rect x="662.79" y="248.92" width="2.3" height="12.46" fill="#e3212b"/>
<line x1="667.57" x2="667.57" y1="243.11" y2="249.42" stroke="#e3212b" stroke-width="1" stroke-opacity="0.92"/>
<rect x="666.42" y="243.94" width="2.3" height="4.98" fill="#e3212b"/>
<line x1="671.19" x2="671.19" y1="240.61" y2="248.09" stroke="#1f8f2f" stroke-width="1" stroke-opacity="0.92"/>
<rect x="670.04" y="241.45" width="2.3" height="5.32" fill="#1f8f2f"/>
<line x1="674.82" x2="674.82" y1="243.94" y2="248.92" stroke="#e3212b" stroke-width="1" stroke-opacity="0.92"/>
<rect x="673.67" y="245.10" width="2.3" height="2.66" fill="#e3212b"/>
<line x1="678.45" x2="678.45" y1="242.28" y2="247.76" stroke="#e3212b" stroke-width="1" stroke-opacity="0.92"/>
<rect x="677.30" y="242.77" width="2.3" height="4.49" fill="#e3212b"/>
<line x1="682.07" x2="682.07" y1="241.45" y2="246.76" stroke="#1f8f2f" stroke-width="1" stroke-opacity="0.92"/>
<rect x="680.92" y="242.28" width="2.3" height="3.32" fill="#1f8f2f"/>
<line x1="685.70" x2="685.70" y1="245.60" y2="254.73" stroke="#1f8f2f" stroke-width="1" stroke-opacity="0.92"/>
<rect x="684.55" y="246.43" width="2.3" height="7.48" fill="#1f8f2f"/>
<line x1="689.33" x2="689.33" y1="250.58" y2="256.06" stroke="#e3212b" stroke-width="1" stroke-opacity="0.92"/>
<rect x="688.18" y="253.07" width="2.3" height="2.49" fill="#e3212b"/>
<line x1="692.95" x2="692.95" y1="252.24" y2="258.06" stroke="#1f8f2f" stroke-width="1" stroke-opacity="0.92"/>
<rect x="691.80" y="253.90" width="2.3" height="3.32" fill="#1f8f2f"/>
<line x1="696.58" x2="696.58" y1="255.07" y2="261.38" stroke="#1f8f2f" stroke-width="1" stroke-opacity="0.92"/>
<rect x="695.43" y="255.56" width="2.3" height="5.48" fill="#1f8f2f"/>
<line x1="700.21" x2="700.21" y1="250.58" y2="263.04" stroke="#e3212b" stroke-width="1" stroke-opacity="0.92"/>
<rect x="699.06" y="254.73" width="2.3" height="7.97" fill="#e3212b"/>
<line x1="703.84" x2="703.84" y1="231.48" y2="243.11" stroke="#1f8f2f" stroke-width="1" stroke-opacity="0.92"/>
<rect x="702.69" y="238.95" width="2.3" height="3.82" fill="#1f8f2f"/>
<line x1="707.46" x2="707.46" y1="247.76" y2="253.41" stroke="#1f8f2f" stroke-width="1" stroke-opacity="0.92"/>
<rect x="706.31" y="248.92" width="2.3" height="3.82" fill="#1f8f2f"/>
<line x1="711.09" x2="711.09" y1="227.82" y2="256.06" stroke="#e3212b" stroke-width="1" stroke-opacity="0.92"/>
<rect x="709.94" y="228.16" width="2.3" height="25.75" fill="#e3212b"/>
<line x1="714.72" x2="714.72" y1="200.47" y2="220.23" stroke="#e3212b" stroke-width="1" stroke-opacity="0.92"/>
<rect x="713.57" y="201.16" width="2.3" height="16.74" fill="#e3212b"/>
<line x1="718.34" x2="718.34" y1="186.51" y2="203.49" stroke="#1f8f2f" stroke-width="1" stroke-opacity="0.92"/>
<rect x="717.19" y="189.53" width="2.3" height="11.63" fill="#1f8f2f"/>
<line x1="721.97" x2="721.97" y1="171.86" y2="200.47" stroke="#e3212b" stroke-width="1" stroke-opacity="0.92"/>
<rect x="720.82" y="181.86" width="2.3" height="10.47" fill="#e3212b"/>
<line x1="725.60" x2="725.60" y1="156.28" y2="187.67" stroke="#e3212b" stroke-width="1" stroke-opacity="0.92"/>
<rect x="724.45" y="162.09" width="2.3" height="24.42" fill="#e3212b"/>
<line x1="729.22" x2="729.22" y1="140.00" y2="163.95" stroke="#e3212b" stroke-width="1" stroke-opacity="0.92"/>
<rect x="728.07" y="144.65" width="2.3" height="17.91" fill="#e3212b"/>
<line x1="732.85" x2="732.85" y1="109.77" y2="133.72" stroke="#e3212b" stroke-width="1" stroke-opacity="0.92"/>
<rect x="731.70" y="110.47" width="2.3" height="22.56" fill="#e3212b"/>
<line x1="736.48" x2="736.48" y1="91.16" y2="131.40" stroke="#e3212b" stroke-width="1" stroke-opacity="0.92"/>
<rect x="735.33" y="109.77" width="2.3" height="8.14" fill="#e3212b"/>
<line x1="740.11" x2="740.11" y1="106.74" y2="128.37" stroke="#e3212b" stroke-width="1" stroke-opacity="0.92"/>
<rect x="738.96" y="120.23" width="2.3" height="6.98" fill="#e3212b"/>
<line x1="743.73" x2="743.73" y1="119.07" y2="132.33" stroke="#1f8f2f" stroke-width="1" stroke-opacity="0.92"/>
<rect x="742.58" y="126.74" width="2.3" height="5.12" fill="#1f8f2f"/>
<line x1="747.36" x2="747.36" y1="124.88" y2="138.37" stroke="#1f8f2f" stroke-width="1" stroke-opacity="0.92"/>
<rect x="746.21" y="130.70" width="2.3" height="4.65" fill="#1f8f2f"/>
<line x1="750.99" x2="750.99" y1="122.56" y2="134.65" stroke="#e3212b" stroke-width="1" stroke-opacity="0.92"/>
<rect x="749.84" y="126.05" width="2.3" height="5.81" fill="#e3212b"/>
<line x1="754.61" x2="754.61" y1="103.95" y2="133.72" stroke="#e3212b" stroke-width="1" stroke-opacity="0.92"/>
<rect x="753.46" y="112.79" width="2.3" height="19.07" fill="#e3212b"/>
<line x1="758.24" x2="758.24" y1="120.23" y2="150.93" stroke="#1f8f2f" stroke-width="1" stroke-opacity="0.92"/>
<rect x="757.09" y="123.02" width="2.3" height="25.58" fill="#1f8f2f"/>
<line x1="761.87" x2="761.87" y1="138.84" y2="154.65" stroke="#e3212b" stroke-width="1" stroke-opacity="0.92"/>
<rect x="760.72" y="145.81" width="2.3" height="6.51" fill="#e3212b"/>
<line x1="765.50" x2="765.50" y1="144.65" y2="157.44" stroke="#1f8f2f" stroke-width="1" stroke-opacity="0.92"/>
<rect x="764.35" y="150.93" width="2.3" height="2.33" fill="#1f8f2f"/>
<line x1="769.12" x2="769.12" y1="140.70" y2="153.26" stroke="#e3212b" stroke-width="1" stroke-opacity="0.92"/>
<rect x="767.97" y="141.63" width="2.3" height="10.70" fill="#e3212b"/>
<line x1="772.75" x2="772.75" y1="111.69" y2="129.84" stroke="#e3212b" stroke-width="1" stroke-opacity="0.92"/>
<rect x="771.60" y="121.24" width="2.3" height="7.64" fill="#e3212b"/>
<line x1="776.38" x2="776.38" y1="82.66" y2="118.38" stroke="#e3212b" stroke-width="1" stroke-opacity="0.92"/>
<rect x="775.23" y="83.04" width="2.3" height="34.38" fill="#e3212b"/>
<line x1="780.00" x2="780.00" y1="43.88" y2="67.76" stroke="#e3212b" stroke-width="1" stroke-opacity="0.92"/>
<rect x="778.85" y="44.83" width="2.3" height="18.15" fill="#e3212b"/>
<line x1="783.63" x2="783.63" y1="62.02" y2="79.22" stroke="#1f8f2f" stroke-width="1" stroke-opacity="0.92"/>
<rect x="782.48" y="62.98" width="2.3" height="13.37" fill="#1f8f2f"/>
<line x1="787.26" x2="787.26" y1="64.89" y2="78.83" stroke="#e3212b" stroke-width="1" stroke-opacity="0.92"/>
<rect x="786.11" y="70.62" width="2.3" height="6.69" fill="#e3212b"/>
<line x1="790.88" x2="790.88" y1="59.73" y2="85.90" stroke="#e3212b" stroke-width="1" stroke-opacity="0.92"/>
<rect x="789.73" y="73.49" width="2.3" height="3.82" fill="#e3212b"/>
<line x1="794.51" x2="794.51" y1="32.42" y2="85.90" stroke="#e3212b" stroke-width="1" stroke-opacity="0.92"/>
<rect x="793.36" y="47.70" width="2.3" height="28.65" fill="#e3212b"/>
<line x1="798.14" x2="798.14" y1="29.17" y2="75.40" stroke="#1f8f2f" stroke-width="1" stroke-opacity="0.92"/>
<rect x="796.99" y="47.70" width="2.3" height="17.19" fill="#1f8f2f"/>
<line x1="801.76" x2="801.76" y1="52.47" y2="66.80" stroke="#e3212b" stroke-width="1" stroke-opacity="0.92"/>
<rect x="800.62" y="59.16" width="2.3" height="3.82" fill="#e3212b"/>
<line x1="805.39" x2="805.39" y1="40.06" y2="68.71" stroke="#1f8f2f" stroke-width="1" stroke-opacity="0.92"/>
<rect x="804.24" y="50.56" width="2.3" height="7.64" fill="#1f8f2f"/>
<line x1="809.02" x2="809.02" y1="41.01" y2="66.80" stroke="#1f8f2f" stroke-width="1" stroke-opacity="0.92"/>
<rect x="807.87" y="55.34" width="2.3" height="10.12" fill="#1f8f2f"/>
<line x1="812.65" x2="812.65" y1="45.79" y2="72.53" stroke="#e3212b" stroke-width="1" stroke-opacity="0.92"/>
<rect x="811.50" y="62.98" width="2.3" height="4.78" fill="#e3212b"/>
<line x1="816.27" x2="816.27" y1="67.76" y2="88.39" stroke="#1f8f2f" stroke-width="1" stroke-opacity="0.92"/>
<rect x="815.12" y="68.71" width="2.3" height="19.10" fill="#1f8f2f"/>
<line x1="819.90" x2="819.90" y1="71.58" y2="88.77" stroke="#e3212b" stroke-width="1" stroke-opacity="0.92"/>
<rect x="818.75" y="72.53" width="2.3" height="15.28" fill="#e3212b"/>
<line x1="823.53" x2="823.53" y1="55.34" y2="71.19" stroke="#e3212b" stroke-width="1" stroke-opacity="0.92"/>
<rect x="822.38" y="63.94" width="2.3" height="6.11" fill="#e3212b"/>
<line x1="827.15" x2="827.15" y1="64.32" y2="77.31" stroke="#1f8f2f" stroke-width="1" stroke-opacity="0.92"/>
<rect x="826.00" y="65.46" width="2.3" height="10.89" fill="#1f8f2f"/>
<line x1="830.78" x2="830.78" y1="68.71" y2="85.90" stroke="#1f8f2f" stroke-width="1" stroke-opacity="0.92"/>
<rect x="829.63" y="76.35" width="2.3" height="8.60" fill="#1f8f2f"/>
<line x1="834.41" x2="834.41" y1="88.39" y2="107.87" stroke="#1f8f2f" stroke-width="1" stroke-opacity="0.92"/>
<rect x="833.26" y="89.15" width="2.3" height="4.39" fill="#1f8f2f"/>
<line x1="838.03" x2="838.03" y1="84.95" y2="97.36" stroke="#e3212b" stroke-width="1" stroke-opacity="0.92"/>
<rect x="836.88" y="90.30" width="2.3" height="4.58" fill="#e3212b"/>
<line x1="841.66" x2="841.66" y1="89.72" y2="98.32" stroke="#1f8f2f" stroke-width="1" stroke-opacity="0.92"/>
<rect x="840.51" y="90.68" width="2.3" height="4.20" fill="#1f8f2f"/>
<line x1="845.29" x2="845.29" y1="60.11" y2="111.69" stroke="#e3212b" stroke-width="1" stroke-opacity="0.92"/>
<rect x="844.14" y="67.76" width="2.3" height="26.74" fill="#e3212b"/>
<line x1="848.92" x2="848.92" y1="60.11" y2="90.68" stroke="#1f8f2f" stroke-width="1" stroke-opacity="0.92"/>
<rect x="847.77" y="62.98" width="2.3" height="22.92" fill="#1f8f2f"/>
<line x1="852.54" x2="852.54" y1="90.68" y2="124.11" stroke="#1f8f2f" stroke-width="1" stroke-opacity="0.92"/>
<rect x="851.39" y="91.63" width="2.3" height="27.32" fill="#1f8f2f"/>
<line x1="856.17" x2="856.17" y1="97.70" y2="121.62" stroke="#e3212b" stroke-width="1" stroke-opacity="0.92"/>
<rect x="855.02" y="99.70" width="2.3" height="18.94" fill="#e3212b"/>
<line x1="859.80" x2="859.80" y1="75.78" y2="103.28" stroke="#e3212b" stroke-width="1" stroke-opacity="0.92"/>
<rect x="858.65" y="82.75" width="2.3" height="19.93" fill="#e3212b"/>
<line x1="863.42" x2="863.42" y1="85.74" y2="97.70" stroke="#1f8f2f" stroke-width="1" stroke-opacity="0.92"/>
<rect x="862.27" y="86.74" width="2.3" height="9.37" fill="#1f8f2f"/>
<line x1="867.05" x2="867.05" y1="88.73" y2="102.68" stroke="#1f8f2f" stroke-width="1" stroke-opacity="0.92"/>
<rect x="865.90" y="95.71" width="2.3" height="2.99" fill="#1f8f2f"/>
<line x1="870.68" x2="870.68" y1="84.75" y2="102.68" stroke="#e3212b" stroke-width="1" stroke-opacity="0.92"/>
<rect x="869.53" y="86.74" width="2.3" height="14.95" fill="#e3212b"/>
<line x1="874.30" x2="874.30" y1="77.77" y2="87.74" stroke="#1f8f2f" stroke-width="1" stroke-opacity="0.92"/>
<rect x="873.15" y="84.75" width="2.3" height="1.99" fill="#1f8f2f"/>
<line x1="877.93" x2="877.93" y1="44.28" y2="88.73" stroke="#e3212b" stroke-width="1" stroke-opacity="0.92"/>
<rect x="876.78" y="44.88" width="2.3" height="41.86" fill="#e3212b"/>
<line x1="881.56" x2="881.56" y1="24.35" y2="44.28" stroke="#e3212b" stroke-width="1" stroke-opacity="0.92"/>
<rect x="880.41" y="33.92" width="2.3" height="9.57" fill="#e3212b"/>
<line x1="885.19" x2="885.19" y1="20.36" y2="42.89" stroke="#1f8f2f" stroke-width="1" stroke-opacity="0.92"/>
<rect x="884.04" y="26.94" width="2.3" height="7.97" fill="#1f8f2f"/>
<line x1="888.81" x2="888.81" y1="16.98" y2="47.87" stroke="#1f8f2f" stroke-width="1" stroke-opacity="0.92"/>
<rect x="887.66" y="33.92" width="2.3" height="12.96" fill="#1f8f2f"/>
<line x1="892.44" x2="892.44" y1="48.87" y2="72.79" stroke="#1f8f2f" stroke-width="1" stroke-opacity="0.92"/>
<rect x="891.29" y="58.83" width="2.3" height="11.96" fill="#1f8f2f"/>
<line x1="896.07" x2="896.07" y1="63.82" y2="71.79" stroke="#e3212b" stroke-width="1" stroke-opacity="0.92"/>
<rect x="894.92" y="67.40" width="2.3" height="3.39" fill="#e3212b"/>
<line x1="899.69" x2="899.69" y1="62.22" y2="86.74" stroke="#1f8f2f" stroke-width="1" stroke-opacity="0.92"/>
<rect x="898.54" y="66.81" width="2.3" height="11.96" fill="#1f8f2f"/>
<line x1="903.32" x2="903.32" y1="62.22" y2="84.75" stroke="#e3212b" stroke-width="1" stroke-opacity="0.92"/>
<rect x="902.17" y="67.80" width="2.3" height="9.97" fill="#e3212b"/>
<line x1="906.95" x2="906.95" y1="62.22" y2="71.39" stroke="#1f8f2f" stroke-width="1" stroke-opacity="0.92"/>
<rect x="905.80" y="67.40" width="2.3" height="2.79" fill="#1f8f2f"/>
<line x1="910.57" x2="910.57" y1="73.78" y2="87.34" stroke="#1f8f2f" stroke-width="1" stroke-opacity="0.92"/>
<rect x="909.42" y="74.78" width="2.3" height="11.96" fill="#1f8f2f"/>
<line x1="914.20" x2="914.20" y1="78.77" y2="88.73" stroke="#e3212b" stroke-width="1" stroke-opacity="0.92"/>
<rect x="913.05" y="79.76" width="2.3" height="6.98" fill="#e3212b"/>
<line x1="917.83" x2="917.83" y1="69.40" y2="78.77" stroke="#e3212b" stroke-width="1" stroke-opacity="0.92"/>
<rect x="916.68" y="74.78" width="2.3" height="2.99" fill="#e3212b"/>
<line x1="921.46" x2="921.46" y1="69.80" y2="93.72" stroke="#e3212b" stroke-width="1" stroke-opacity="0.92"/>
<rect x="920.31" y="73.78" width="2.3" height="2.99" fill="#e3212b"/>
<line x1="925.08" x2="925.08" y1="68.80" y2="89.73" stroke="#1f8f2f" stroke-width="1" stroke-opacity="0.92"/>
<rect x="923.93" y="73.38" width="2.3" height="13.35" fill="#1f8f2f"/>
<line x1="928.71" x2="928.71" y1="100.69" y2="118.03" stroke="#e3212b" stroke-width="1" stroke-opacity="0.92"/>
<rect x="927.56" y="102.09" width="2.3" height="15.15" fill="#e3212b"/>
<line x1="932.34" x2="932.34" y1="94.71" y2="116.64" stroke="#1f8f2f" stroke-width="1" stroke-opacity="0.92"/>
<rect x="931.19" y="98.70" width="2.3" height="16.94" fill="#1f8f2f"/>
<line x1="935.96" x2="935.96" y1="86.74" y2="120.62" stroke="#e3212b" stroke-width="1" stroke-opacity="0.92"/>
<rect x="934.81" y="92.72" width="2.3" height="21.93" fill="#e3212b"/>
<line x1="939.59" x2="939.59" y1="97.70" y2="109.66" stroke="#1f8f2f" stroke-width="1" stroke-opacity="0.92"/>
<rect x="938.44" y="98.70" width="2.3" height="8.97" fill="#1f8f2f"/>
<line x1="943.22" x2="943.22" y1="99.70" y2="114.64" stroke="#1f8f2f" stroke-width="1" stroke-opacity="0.92"/>
<rect x="942.07" y="105.28" width="2.3" height="8.37" fill="#1f8f2f"/>
<line x1="946.84" x2="946.84" y1="99.30" y2="110.66" stroke="#1f8f2f" stroke-width="1" stroke-opacity="0.92"/>
<rect x="945.69" y="105.67" width="2.3" height="2.99" fill="#1f8f2f"/>
<line x1="950.47" x2="950.47" y1="104.68" y2="117.63" stroke="#e3212b" stroke-width="1" stroke-opacity="0.92"/>
<rect x="949.32" y="105.67" width="2.3" height="5.98" fill="#e3212b"/>
<line x1="954.10" x2="954.10" y1="100.69" y2="109.66" stroke="#1f8f2f" stroke-width="1" stroke-opacity="0.92"/>
<rect x="952.95" y="105.28" width="2.3" height="3.39" fill="#1f8f2f"/>
<line x1="957.73" x2="957.73" y1="110.22" y2="119.52" stroke="#1f8f2f" stroke-width="1" stroke-opacity="0.92"/>
<rect x="956.58" y="111.54" width="2.3" height="3.32" fill="#1f8f2f"/>
<line x1="961.35" x2="961.35" y1="102.24" y2="112.48" stroke="#e3212b" stroke-width="1" stroke-opacity="0.92"/>
<rect x="960.20" y="103.57" width="2.3" height="8.37" fill="#e3212b"/>
<line x1="964.98" x2="964.98" y1="99.58" y2="112.21" stroke="#e3212b" stroke-width="1" stroke-opacity="0.92"/>
<rect x="963.83" y="101.58" width="2.3" height="10.37" fill="#e3212b"/>
<line x1="968.61" x2="968.61" y1="96.26" y2="104.90" stroke="#e3212b" stroke-width="1" stroke-opacity="0.92"/>
<rect x="967.46" y="100.91" width="2.3" height="2.66" fill="#e3212b"/>
<line x1="972.23" x2="972.23" y1="96.93" y2="103.97" stroke="#e3212b" stroke-width="1" stroke-opacity="0.92"/>
<rect x="971.08" y="97.86" width="2.3" height="5.32" fill="#e3212b"/>
<line x1="975.86" x2="975.86" y1="93.60" y2="108.22" stroke="#1f8f2f" stroke-width="1" stroke-opacity="0.92"/>
<rect x="974.71" y="94.93" width="2.3" height="11.96" fill="#1f8f2f"/>
<line x1="979.49" x2="979.49" y1="97.59" y2="110.22" stroke="#e3212b" stroke-width="1" stroke-opacity="0.92"/>
<rect x="978.34" y="100.91" width="2.3" height="8.90" fill="#e3212b"/>
<line x1="983.11" x2="983.11" y1="86.30" y2="101.58" stroke="#1f8f2f" stroke-width="1" stroke-opacity="0.92"/>
<rect x="981.96" y="98.26" width="2.3" height="2.66" fill="#1f8f2f"/>
<line x1="986.74" x2="986.74" y1="102.24" y2="114.20" stroke="#1f8f2f" stroke-width="1" stroke-opacity="0.92"/>
<rect x="985.59" y="102.91" width="2.3" height="10.63" fill="#1f8f2f"/>
<line x1="990.37" x2="990.37" y1="115.53" y2="124.17" stroke="#e3212b" stroke-width="1" stroke-opacity="0.92"/>
<rect x="989.22" y="118.19" width="2.3" height="2.66" fill="#e3212b"/>
<line x1="994.00" x2="994.00" y1="106.23" y2="119.12" stroke="#e3212b" stroke-width="1" stroke-opacity="0.92"/>
<rect x="992.85" y="108.89" width="2.3" height="9.70" fill="#e3212b"/>
<line x1="997.62" x2="997.62" y1="104.90" y2="117.26" stroke="#1f8f2f" stroke-width="1" stroke-opacity="0.92"/>
<rect x="996.47" y="105.83" width="2.3" height="10.63" fill="#1f8f2f"/>
<line x1="1001.25" x2="1001.25" y1="116.20" y2="124.83" stroke="#1f8f2f" stroke-width="1" stroke-opacity="0.92"/>
<rect x="1000.10" y="117.26" width="2.3" height="6.91" fill="#1f8f2f"/>
<line x1="1004.88" x2="1004.88" y1="122.84" y2="137.46" stroke="#1f8f2f" stroke-width="1" stroke-opacity="0.92"/>
<rect x="1003.73" y="123.50" width="2.3" height="11.96" fill="#1f8f2f"/>
<line x1="1008.50" x2="1008.50" y1="131.48" y2="139.45" stroke="#1f8f2f" stroke-width="1" stroke-opacity="0.92"/>
<rect x="1007.35" y="133.47" width="2.3" height="5.32" fill="#1f8f2f"/>
<line x1="1012.13" x2="1012.13" y1="132.81" y2="141.45" stroke="#e3212b" stroke-width="1" stroke-opacity="0.92"/>
<rect x="1010.98" y="134.14" width="2.3" height="4.65" fill="#e3212b"/>
<line x1="1015.76" x2="1015.76" y1="137.46" y2="145.43" stroke="#1f8f2f" stroke-width="1" stroke-opacity="0.92"/>
<rect x="1014.61" y="138.12" width="2.3" height="5.98" fill="#1f8f2f"/>
<line x1="1019.38" x2="1019.38" y1="126.16" y2="143.04" stroke="#e3212b" stroke-width="1" stroke-opacity="0.92"/>
<rect x="1018.24" y="132.81" width="2.3" height="9.70" fill="#e3212b"/>
<line x1="1023.01" x2="1023.01" y1="121.51" y2="138.12" stroke="#e3212b" stroke-width="1" stroke-opacity="0.92"/>
<rect x="1021.86" y="128.16" width="2.3" height="6.64" fill="#e3212b"/>
<line x1="1026.64" x2="1026.64" y1="118.19" y2="128.82" stroke="#1f8f2f" stroke-width="1" stroke-opacity="0.92"/>
<rect x="1025.49" y="124.83" width="2.3" height="3.32" fill="#1f8f2f"/>
<line x1="1030.27" x2="1030.27" y1="124.44" y2="132.14" stroke="#e3212b" stroke-width="1" stroke-opacity="0.92"/>
<rect x="1029.12" y="126.83" width="2.3" height="2.66" fill="#e3212b"/>
<line x1="1033.89" x2="1033.89" y1="106.89" y2="133.47" stroke="#e3212b" stroke-width="1" stroke-opacity="0.92"/>
<rect x="1032.74" y="117.52" width="2.3" height="11.30" fill="#e3212b"/>
<line x1="1037.52" x2="1037.52" y1="122.18" y2="140.12" stroke="#1f8f2f" stroke-width="1" stroke-opacity="0.92"/>
<rect x="1036.37" y="124.83" width="2.3" height="3.32" fill="#1f8f2f"/>
<line x1="1041.15" x2="1041.15" y1="126.16" y2="134.14" stroke="#1f8f2f" stroke-width="1" stroke-opacity="0.92"/>
<rect x="1040.00" y="130.81" width="2.3" height="2.39" fill="#1f8f2f"/>
<line x1="1044.77" x2="1044.77" y1="125.50" y2="138.52" stroke="#e3212b" stroke-width="1" stroke-opacity="0.92"/>
<rect x="1043.62" y="130.81" width="2.3" height="3.99" fill="#e3212b"/>
<line x1="1048.40" x2="1048.40" y1="126.16" y2="135.07" stroke="#e3212b" stroke-width="1" stroke-opacity="0.92"/>
<rect x="1047.25" y="130.15" width="2.3" height="4.39" fill="#e3212b"/>
<line x1="1052.03" x2="1052.03" y1="126.16" y2="137.46" stroke="#e3212b" stroke-width="1" stroke-opacity="0.92"/>
<rect x="1050.88" y="127.09" width="2.3" height="7.04" fill="#e3212b"/>
<line x1="1055.65" x2="1055.65" y1="122.18" y2="128.16" stroke="#e3212b" stroke-width="1" stroke-opacity="0.92"/>
<rect x="1054.50" y="123.50" width="2.3" height="3.99" fill="#e3212b"/>
<line x1="1059.28" x2="1059.28" y1="124.17" y2="134.14" stroke="#1f8f2f" stroke-width="1" stroke-opacity="0.92"/>
<rect x="1058.13" y="126.16" width="2.3" height="6.64" fill="#1f8f2f"/>
<line x1="1062.91" x2="1062.91" y1="128.82" y2="141.45" stroke="#1f8f2f" stroke-width="1" stroke-opacity="0.92"/>
<rect x="1061.76" y="130.81" width="2.3" height="9.97" fill="#1f8f2f"/>
<line x1="1066.54" x2="1066.54" y1="128.16" y2="135.47" stroke="#1f8f2f" stroke-width="1" stroke-opacity="0.92"/>
<rect x="1065.39" y="128.82" width="2.3" height="2.66" fill="#1f8f2f"/>
</g>
<path d="M109.01,393.27 L112.63,390.88 L116.26,389.09 L119.89,386.23 L123.52,384.39 L127.14,384.53 L130.77,384.67 L134.40,385.08 L138.02,386.72 L141.65,390.29 L145.28,391.58 L148.91,391.88 L152.53,391.99 L156.16,391.99 L159.79,390.29 L163.41,390.90 L167.04,391.97 L170.67,392.89 L174.29,390.84 L177.92,388.15 L181.55,384.98 L185.18,381.87 L188.80,377.79 L192.43,374.97 L196.06,372.66 L199.68,369.13 L203.31,367.34 L206.94,366.66 L210.56,367.79 L214.19,367.28 L217.82,369.93 L221.44,370.24 L225.07,370.55 L228.70,369.73 L232.33,373.00 L235.95,371.32 L239.58,369.89 L243.21,366.01 L246.83,363.66 L250.46,359.98 L254.09,360.70 L257.72,361.66 L261.34,366.97 L264.97,371.73 L268.60,375.20 L272.22,375.96 L275.85,376.53 L279.48,374.28 L283.10,371.26 L286.73,367.11 L290.36,363.23 L293.99,361.19 L297.61,357.72 L301.24,354.71 L304.87,353.32 L308.49,352.00 L312.12,346.56 L315.75,339.67 L319.37,329.99 L323.00,319.62 L326.63,306.15 L330.25,296.06 L333.88,289.76 L337.51,283.02 L341.14,278.24 L344.76,278.84 L348.39,278.64 L352.02,273.54 L355.64,269.53 L359.27,260.06 L362.90,243.41 L366.52,221.05 L370.15,209.57 L373.78,194.19 L377.41,177.34 L381.03,158.67 L384.66,154.03 L388.29,143.87 L391.91,143.57 L395.54,147.57 L399.17,158.94 L402.79,166.41 L406.42,170.75 L410.05,170.00 L413.68,166.11 L417.30,166.56 L420.93,162.91 L424.56,154.78 L428.18,148.95 L431.81,147.01 L435.44,144.46 L439.06,143.33 L442.69,151.40 L446.32,159.62 L449.95,170.18 L453.57,177.21 L457.20,185.77 L460.83,192.40 L464.45,197.73 L468.08,201.92 L471.71,208.12 L475.33,216.22 L478.96,229.43 L482.59,237.73 L486.22,242.38 L489.84,239.89 L493.47,233.46 L497.10,221.33 L500.72,212.48 L504.35,206.88 L507.98,208.12 L511.60,206.25 L515.23,205.51 L518.86,201.06 L522.49,199.40 L526.11,196.50 L529.74,198.16 L533.37,197.53 L536.99,198.95 L540.62,197.56 L544.25,195.34 L547.88,190.65 L551.50,189.56 L555.13,189.56 L558.76,191.46 L562.38,194.09 L566.01,199.20 L569.64,202.02 L573.26,208.16 L576.89,212.29 L580.52,216.60 L584.14,217.88 L587.77,220.91 L591.40,223.47 L595.03,228.11 L598.65,232.31 L602.28,236.62 L605.91,240.83 L609.53,243.68 L613.16,244.41 L616.79,243.86 L620.41,245.03 L624.04,243.38 L627.67,243.82 L631.30,244.12 L634.92,245.87 L638.55,248.14 L642.18,250.85 L645.80,252.59 L649.43,254.52 L653.06,256.29 L656.68,257.72 L660.31,259.19 L663.94,257.43 L667.57,255.20 L671.19,253.04 L674.82,249.29 L678.45,245.50 L682.07,244.83 L685.70,246.83 L689.33,248.09 L692.95,250.51 L696.58,254.17 L700.21,256.00 L703.84,253.77 L707.46,253.70 L711.09,247.89 L714.72,235.91 L718.34,225.20 L721.97,213.02 L725.60,194.89 L729.22,178.19 L732.85,160.05 L736.48,141.77 L740.11,129.44 L743.73,123.40 L747.36,121.53 L750.99,124.65 L754.61,125.26 L758.24,130.93 L761.87,133.72 L765.50,137.30 L769.12,140.42 L772.75,142.11 L776.38,129.00 L780.00,108.80 L783.63,93.42 L787.26,79.22 L790.88,69.67 L794.51,62.60 L798.14,66.61 L801.76,63.17 L805.39,60.69 L809.02,59.08 L812.65,62.14 L816.27,66.72 L819.90,69.40 L823.53,70.54 L827.15,72.72 L830.78,77.12 L834.41,78.26 L838.03,81.81 L841.66,88.00 L845.29,86.28 L848.92,86.48 L852.54,91.56 L856.17,93.44 L859.80,91.01 L863.42,96.68 L867.05,99.24 L870.68,92.80 L874.30,90.21 L877.93,82.63 L881.56,70.20 L885.19,57.44 L888.81,49.47 L892.44,46.28 L896.07,50.78 L899.69,59.75 L903.32,66.33 L906.95,70.99 L910.57,74.18 L914.20,76.65 L917.83,75.86 L921.46,77.05 L925.08,80.36 L928.71,83.43 L932.34,90.61 L935.96,94.19 L939.59,100.97 L943.22,106.35 L946.84,107.67 L950.47,105.67 L954.10,108.86 L957.73,110.30 L961.35,108.29 L964.98,106.87 L968.61,105.92 L972.23,103.76 L975.86,102.16 L979.49,101.63 L983.11,101.50 L986.74,104.02 L990.37,108.09 L994.00,108.49 L997.62,111.60 L1001.25,116.25 L1004.88,120.63 L1008.50,124.75 L1012.13,129.80 L1015.76,135.33 L1019.38,137.06 L1023.01,135.60 L1026.64,133.47 L1030.27,132.01 L1033.89,126.69 L1037.52,125.76 L1041.15,126.77 L1044.77,127.31 L1048.40,127.97 L1052.03,129.88 L1055.65,128.95 L1059.28,128.87 L1062.91,130.87 L1066.54,131.13" fill="none" stroke="#1f77b4" stroke-width="1.3" stroke-linejoin="round"/>
<path d="M163.41,390.07 L167.04,389.85 L170.67,389.76 L174.29,388.94 L177.92,388.28 L181.55,388.00 L185.18,387.60 L188.80,386.94 L192.43,386.13 L196.06,385.35 L199.68,384.15 L203.31,383.27 L206.94,382.33 L210.56,381.40 L214.19,379.59 L217.82,378.74 L221.44,377.85 L225.07,376.97 L228.70,375.83 L232.33,375.27 L235.95,373.84 L239.58,372.34 L243.21,370.25 L246.83,369.04 L250.46,368.23 L254.09,367.77 L257.72,367.28 L261.34,367.55 L264.97,368.23 L268.60,368.87 L272.22,369.48 L275.85,369.58 L279.48,369.45 L283.10,369.10 L286.73,368.83 L290.36,367.80 L293.99,367.32 L297.61,366.25 L301.24,365.34 L304.87,363.91 L308.49,362.97 L312.12,361.49 L315.75,359.66 L319.37,356.92 L323.00,353.81 L326.63,349.33 L330.25,345.09 L333.88,340.36 L337.51,334.75 L341.14,329.57 L344.76,325.05 L348.39,320.61 L352.02,315.17 L355.64,309.31 L359.27,302.81 L362.90,295.10 L366.52,285.58 L370.15,278.13 L373.78,269.18 L377.41,258.81 L381.03,246.77 L384.66,237.44 L388.29,229.18 L391.91,222.58 L395.54,215.80 L399.17,209.96 L402.79,205.03 L406.42,199.43 L410.05,194.32 L413.68,187.77 L417.30,181.89 L420.93,176.10 L424.56,169.74 L428.18,164.18 L431.81,159.51 L435.44,157.16 L439.06,156.67 L442.69,155.20 L446.32,155.54 L449.95,157.72 L453.57,161.79 L457.20,164.60 L460.83,167.33 L464.45,169.08 L468.08,171.30 L471.71,174.09 L475.33,177.06 L478.96,182.00 L482.59,186.01 L486.22,190.37 L489.84,192.42 L493.47,194.69 L497.10,198.64 L500.72,201.89 L504.35,205.34 L507.98,208.34 L511.60,210.42 L515.23,212.17 L518.86,212.25 L522.49,212.65 L526.11,213.16 L529.74,213.52 L533.37,213.45 L536.99,212.56 L540.62,211.56 L544.25,209.96 L547.88,207.13 L551.50,203.48 L555.13,200.51 L558.76,198.82 L562.38,198.51 L566.01,198.57 L569.64,198.65 L573.26,199.43 L576.89,200.18 L580.52,200.63 L584.14,201.47 L587.77,202.50 L591.40,205.03 L595.03,207.35 L598.65,209.58 L602.28,211.09 L605.91,213.33 L609.53,216.22 L613.16,219.07 L616.79,221.71 L620.41,224.68 L624.04,226.79 L627.67,229.78 L631.30,232.23 L634.92,234.66 L638.55,236.92 L642.18,238.99 L645.80,240.89 L649.43,242.79 L653.06,244.58 L656.68,246.88 L660.31,248.56 L663.94,249.38 L667.57,249.56 L671.19,249.77 L674.82,250.04 L678.45,249.73 L682.07,249.67 L685.70,250.17 L689.33,250.82 L692.95,251.42 L696.58,252.43 L700.21,252.71 L703.84,252.58 L707.46,252.78 L711.09,251.35 L714.72,248.69 L718.34,245.86 L721.97,242.20 L725.60,237.43 L729.22,231.47 L732.85,223.91 L736.48,216.95 L740.11,210.76 L743.73,205.02 L747.36,199.53 L750.99,193.70 L754.61,187.05 L758.24,181.79 L761.87,176.43 L765.50,171.23 L769.12,165.26 L772.75,158.58 L776.38,150.60 L780.00,140.20 L783.63,132.61 L787.26,126.08 L790.88,119.70 L794.51,112.99 L798.14,108.13 L801.76,103.86 L805.39,101.24 L809.02,99.03 L812.65,96.17 L816.27,93.96 L819.90,90.82 L823.53,87.72 L827.15,85.89 L830.78,82.71 L834.41,80.10 L838.03,76.95 L841.66,74.61 L845.29,71.94 L848.92,72.08 L852.54,75.79 L856.17,76.96 L859.80,77.56 L863.42,78.69 L867.05,81.24 L870.68,82.34 L874.30,83.71 L877.93,83.05 L881.56,81.47 L885.19,80.07 L888.81,78.02 L892.44,77.93 L896.07,78.11 L899.69,78.23 L903.32,77.37 L906.95,76.20 L910.57,76.03 L914.20,75.27 L917.83,75.62 L921.46,75.01 L925.08,73.40 L928.71,73.52 L932.34,75.17 L935.96,75.00 L939.59,75.45 L943.22,76.79 L946.84,77.89 L950.47,80.93 L954.10,84.67 L957.73,88.66 L961.35,91.50 L964.98,93.04 L968.61,94.71 L972.23,95.67 L975.86,97.62 L979.49,99.16 L983.11,99.87 L986.74,101.56 L990.37,103.73 L994.00,105.48 L997.62,106.97 L1001.25,108.07 L1004.88,109.06 L1008.50,111.37 L1012.13,112.69 L1015.76,114.21 L1019.38,115.42 L1023.01,116.54 L1026.64,117.52 L1030.27,118.12 L1033.89,118.81 L1037.52,120.14 L1041.15,121.76 L1044.77,123.41 L1048.40,124.57 L1052.03,125.88 L1055.65,127.01 L1059.28,127.97 L1062.91,129.10 L1066.54,130.23" fill="none" stroke="#ff7f0e" stroke-width="1.3" stroke-linejoin="round"/>
<path d="M308.49,375.63 L312.12,374.56 L315.75,373.22 L319.37,371.63 L323.00,370.11 L326.63,368.37 L330.25,366.66 L333.88,364.95 L337.51,363.03 L341.14,361.26 L344.76,359.56 L348.39,357.82 L352.02,355.65 L355.64,353.27 L359.27,350.41 L362.90,347.21 L366.52,343.58 L370.15,340.45 L373.78,336.79 L377.41,332.66 L381.03,327.86 L384.66,323.76 L388.29,319.70 L391.91,316.18 L395.54,312.62 L399.17,309.02 L402.79,305.80 L406.42,302.45 L410.05,299.10 L413.68,295.40 L417.30,292.14 L420.93,288.76 L424.56,284.79 L428.18,280.86 L431.81,277.05 L435.44,273.35 L439.06,269.86 L442.69,266.53 L446.32,263.35 L449.95,260.15 L453.57,257.18 L457.20,254.51 L460.83,252.06 L464.45,249.52 L468.08,246.97 L471.71,244.46 L475.33,242.39 L478.96,240.60 L482.59,238.36 L486.22,235.91 L489.84,233.12 L493.47,230.47 L497.10,227.85 L500.72,225.13 L504.35,222.55 L507.98,220.20 L511.60,217.56 L515.23,215.17 L518.86,212.32 L522.49,209.73 L526.11,207.24 L529.74,205.19 L533.37,203.32 L536.99,201.40 L540.62,199.55 L544.25,198.00 L547.88,196.41 L551.50,194.97 L555.13,193.61 L558.76,192.32 L562.38,190.94 L566.01,189.79 L569.64,189.01 L573.26,188.50 L576.89,188.34 L580.52,188.71 L584.14,189.52 L587.77,189.96 L591.40,190.94 L595.03,192.57 L598.65,194.84 L602.28,196.40 L605.91,198.04 L609.53,199.28 L613.16,200.64 L616.79,201.92 L620.41,202.96 L624.04,204.09 L627.67,205.43 L631.30,207.14 L634.92,208.53 L638.55,210.06 L642.18,212.10 L645.80,214.07 L649.43,216.10 L653.06,217.85 L656.68,219.59 L660.31,221.08 L663.94,222.22 L667.57,223.19 L671.19,224.17 L674.82,224.88 L678.45,225.50 L682.07,226.15 L685.70,226.93 L689.33,227.50 L692.95,227.74 L696.58,227.56 L700.21,227.67 L703.84,227.88 L707.46,228.65 L711.09,228.95 L714.72,228.78 L718.34,228.73 L721.97,228.39 L725.60,227.55 L729.22,226.61 L732.85,224.99 L736.48,223.79 L740.11,222.56 L743.73,221.46 L747.36,220.22 L750.99,218.92 L754.61,217.65 L758.24,217.01 L761.87,216.32 L765.50,215.78 L769.12,214.82 L772.75,213.69 L776.38,211.80 L780.00,209.21 L783.63,206.96 L787.26,204.59 L790.88,202.15 L794.51,199.33 L798.14,196.72 L801.76,194.07 L805.39,191.24 L809.02,188.45 L812.65,185.50 L816.27,182.92 L819.90,180.13 L823.53,177.05 L827.15,174.21 L830.78,171.56 L834.41,169.12 L838.03,166.53 L841.66,164.10 L845.29,161.08 L848.92,158.42 L852.54,156.26 L856.17,153.64 L859.80,150.78 L863.42,148.09 L867.05,145.48 L870.68,142.63 L874.30,139.68 L877.93,136.07 L881.56,132.48 L885.19,129.00 L888.81,125.67 L892.44,122.76 L896.07,119.84 L899.69,117.06 L903.32,113.96 L906.95,110.91 L910.57,108.07 L914.20,105.05 L917.83,102.05 L921.46,99.23 L925.08,96.46 L928.71,94.36 L932.34,92.94 L935.96,91.13 L939.59,89.89 L943.22,89.09 L946.84,88.49 L950.47,88.41 L954.10,88.39 L957.73,88.30 L961.35,87.83 L964.98,87.26 L968.61,86.85 L972.23,86.60 L975.86,85.90 L979.49,85.15 L983.11,84.28 L986.74,83.81 L990.37,83.76 L994.00,84.19 L997.62,85.39 L1001.25,86.18 L1004.88,87.26 L1008.50,88.35 L1012.13,89.79 L1015.76,91.11 L1019.38,92.34 L1023.01,93.51 L1026.64,94.55 L1030.27,95.62 L1033.89,96.11 L1037.52,97.04 L1041.15,98.19 L1044.77,99.10 L1048.40,99.85 L1052.03,100.41 L1055.65,100.97 L1059.28,101.60 L1062.91,102.82 L1066.54,103.58" fill="none" stroke="#2f9a35" stroke-width="1.3" stroke-linejoin="round"/>
<g stroke="#000" stroke-width="1.05">
<line x1="87.6" x2="92.4" y1="366.50" y2="366.50"/>
<line x1="87.6" x2="92.4" y1="322.50" y2="322.50"/>
<line x1="87.6" x2="92.4" y1="278.50" y2="278.50"/>
<line x1="87.6" x2="92.4" y1="234.50" y2="234.50"/>
<line x1="87.6" x2="92.4" y1="190.50" y2="190.50"/>
<line x1="87.6" x2="92.4" y1="147.50" y2="147.50"/>
<line x1="87.6" x2="92.4" y1="103.50" y2="103.50"/>
<line x1="87.6" x2="92.4" y1="59.50" y2="59.50"/>
<line x1="87.6" x2="92.4" y1="15.50" y2="15.50"/>
<line x1="87.6" x2="92.4" y1="530.50" y2="530.50"/>
<line x1="87.6" x2="92.4" y1="497.80" y2="497.80"/>
<line x1="87.6" x2="92.4" y1="465.50" y2="465.50"/>
<line x1="87.6" x2="92.4" y1="433.50" y2="433.50"/>
<line x1="94.50" x2="94.50" y1="560.6" y2="565.2"/>
<line x1="275.85" x2="275.85" y1="560.6" y2="565.2"/>
<line x1="457.20" x2="457.20" y1="560.6" y2="565.2"/>
<line x1="638.55" x2="638.55" y1="560.6" y2="565.2"/>
<line x1="819.90" x2="819.90" y1="560.6" y2="565.2"/>
<line x1="1001.25" x2="1001.25" y1="560.6" y2="565.2"/>
</g>
<g opacity="0.995">
<text transform="translate(81.20,372.48) scale(1.1,1)" text-anchor="end" font-size="13.9" font-weight="normal">30</text>
<text transform="translate(81.20,328.48) scale(1.1,1)" text-anchor="end" font-size="13.9" font-weight="normal">40</text>
<text transform="translate(81.20,284.48) scale(1.1,1)" text-anchor="end" font-size="13.9" font-weight="normal">50</text>
<text transform="translate(81.20,240.48) scale(1.1,1)" text-anchor="end" font-size="13.9" font-weight="normal">60</text>
<text transform="translate(81.20,196.48) scale(1.1,1)" text-anchor="end" font-size="13.9" font-weight="normal">70</text>
<text transform="translate(81.20,153.48) scale(1.1,1)" text-anchor="end" font-size="13.9" font-weight="normal">80</text>
<text transform="translate(81.20,109.48) scale(1.1,1)" text-anchor="end" font-size="13.9" font-weight="normal">90</text>
<text transform="translate(81.20,65.48) scale(1.1,1)" text-anchor="end" font-size="13.9" font-weight="normal">100</text>
<text transform="translate(81.20,21.48) scale(1.1,1)" text-anchor="end" font-size="13.9" font-weight="normal">110</text>
<text transform="translate(81.20,536.68) scale(1.1,1)" text-anchor="end" font-size="13.9" font-weight="normal">100000</text>
<text transform="translate(81.20,503.98) scale(1.1,1)" text-anchor="end" font-size="13.9" font-weight="normal">200000</text>
<text transform="translate(81.20,471.68) scale(1.1,1)" text-anchor="end" font-size="13.9" font-weight="normal">300000</text>
<text transform="translate(81.20,439.68) scale(1.1,1)" text-anchor="end" font-size="13.9" font-weight="normal">400000</text>
<text transform="translate(93.50,581.30) rotate(-15) translate(0,4.98) scale(1.1,1)" text-anchor="middle" font-size="13.9" font-weight="normal">1030</text>
<text transform="translate(274.85,581.30) rotate(-15) translate(0,4.98) scale(1.1,1)" text-anchor="middle" font-size="13.9" font-weight="normal">0109</text>
<text transform="translate(456.20,581.30) rotate(-15) translate(0,4.98) scale(1.1,1)" text-anchor="middle" font-size="13.9" font-weight="normal">0328</text>
<text transform="translate(637.55,581.30) rotate(-15) translate(0,4.98) scale(1.1,1)" text-anchor="middle" font-size="13.9" font-weight="normal">0613</text>
<text transform="translate(818.90,581.30) rotate(-15) translate(0,4.98) scale(1.1,1)" text-anchor="middle" font-size="13.9" font-weight="normal">0822</text>
<text transform="translate(1000.25,581.30) rotate(-15) translate(0,4.98) scale(1.1,1)" text-anchor="middle" font-size="13.9" font-weight="normal">1110</text>
<text transform="translate(42.80,212.00) rotate(-90) translate(0,4.98) scale(1.1,1)" text-anchor="middle" font-size="13.9" font-weight="normal">price</text>
<text transform="translate(16.00,484.00) rotate(-90) translate(0,4.98) scale(1.1,1)" text-anchor="middle" font-size="13.9" font-weight="normal">volume</text>
<text transform="translate(532.00,62.25) scale(1.287,1)" text-anchor="middle" font-size="19.4" font-weight="bold" fill="#000" stroke="#000" stroke-width="0.35">20251204 09:32:06   82.94</text>
</g>
</svg></body></html>
